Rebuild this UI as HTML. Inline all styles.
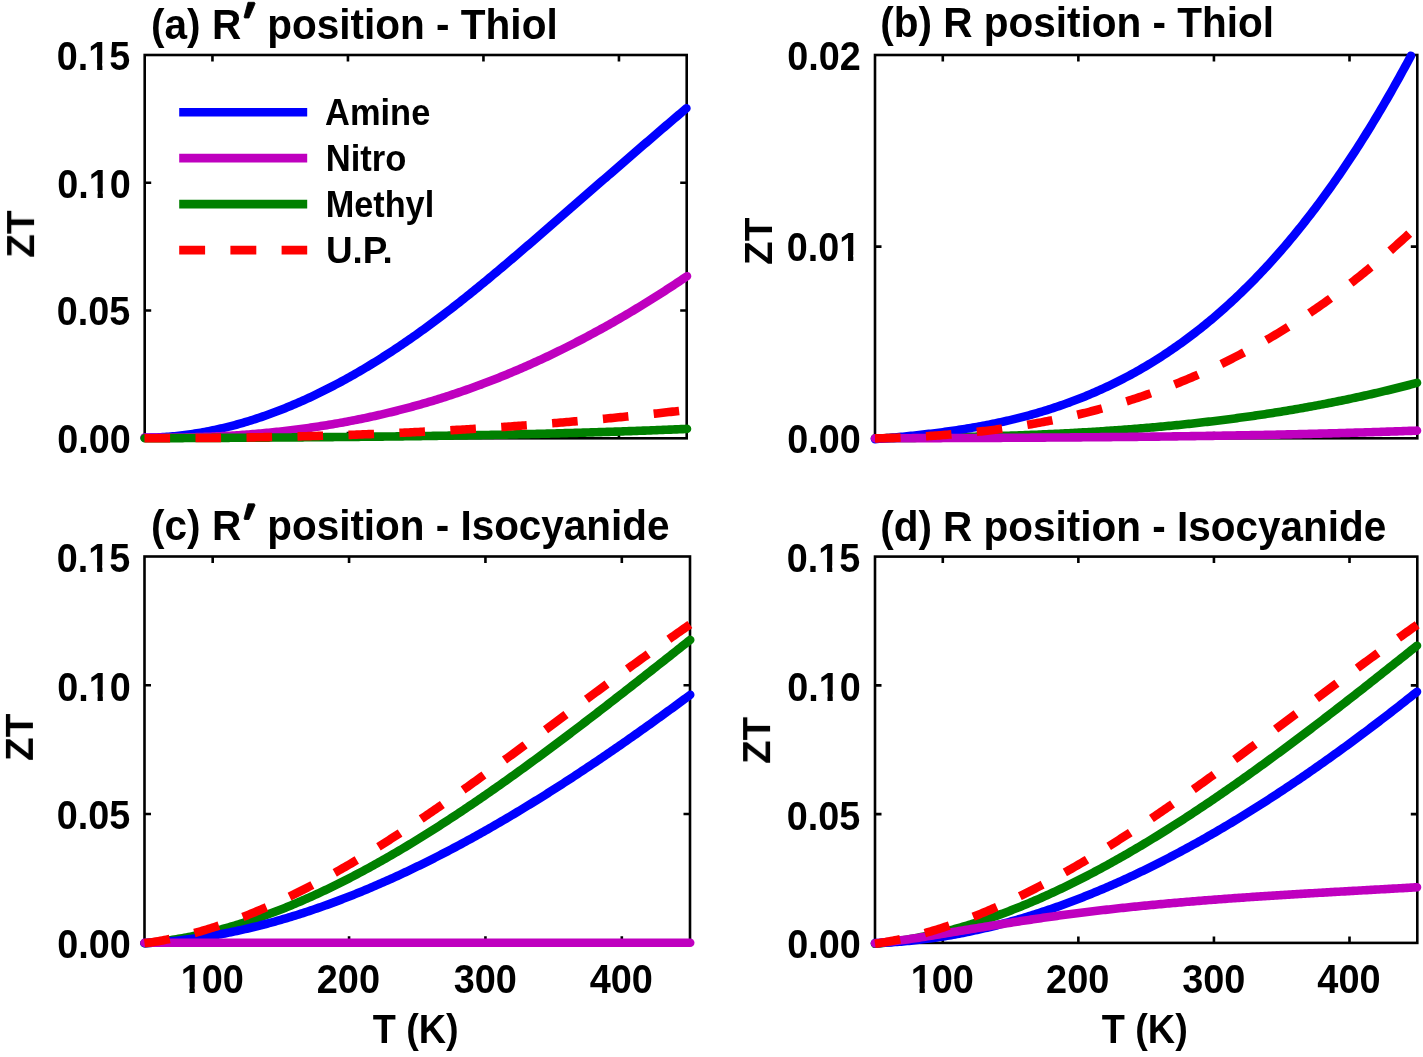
<!DOCTYPE html>
<html><head><meta charset="utf-8"><title>ZT vs T</title>
<style>html,body{margin:0;padding:0;background:#fff;width:1423px;height:1057px;overflow:hidden}svg{display:block}</style>
</head><body>
<svg width="1423" height="1057" viewBox="0 0 1423 1057">
<rect width="1423" height="1057" fill="#fff"/>
<rect x="144.7" y="55.0" width="542.00" height="383.30" fill="none" stroke="#000" stroke-width="2.6" stroke-linejoin="miter"/>
<path d="M212.45,438.30V431.80M212.45,55.00V61.50M347.95,438.30V431.80M347.95,55.00V61.50M483.45,438.30V431.80M483.45,55.00V61.50M618.95,438.30V431.80M618.95,55.00V61.50M144.70,310.53H151.20M686.70,310.53H680.20M144.70,182.77H151.20M686.70,182.77H680.20" stroke="#000" stroke-width="2.6" fill="none"/>
<rect x="875.0" y="55.0" width="542.30" height="383.30" fill="none" stroke="#000" stroke-width="2.6" stroke-linejoin="miter"/>
<path d="M942.79,438.30V431.80M942.79,55.00V61.50M1078.36,438.30V431.80M1078.36,55.00V61.50M1213.94,438.30V431.80M1213.94,55.00V61.50M1349.51,438.30V431.80M1349.51,55.00V61.50M875.00,246.65H881.50M1417.30,246.65H1410.80" stroke="#000" stroke-width="2.6" fill="none"/>
<rect x="144.5" y="556.5" width="545.50" height="386.30" fill="none" stroke="#000" stroke-width="2.6" stroke-linejoin="miter"/>
<path d="M212.69,942.80V936.30M212.69,556.50V563.00M349.06,942.80V936.30M349.06,556.50V563.00M485.44,942.80V936.30M485.44,556.50V563.00M621.81,942.80V936.30M621.81,556.50V563.00M144.50,814.03H151.00M690.00,814.03H683.50M144.50,685.27H151.00M690.00,685.27H683.50" stroke="#000" stroke-width="2.6" fill="none"/>
<rect x="875.0" y="556.6" width="542.30" height="386.30" fill="none" stroke="#000" stroke-width="2.6" stroke-linejoin="miter"/>
<path d="M942.79,942.90V936.40M942.79,556.60V563.10M1078.36,942.90V936.40M1078.36,556.60V563.10M1213.94,942.90V936.40M1213.94,556.60V563.10M1349.51,942.90V936.40M1349.51,556.60V563.10M875.00,814.13H881.50M1417.30,814.13H1410.80M875.00,685.37H881.50M1417.30,685.37H1410.80" stroke="#000" stroke-width="2.6" fill="none"/>
<path d="M144.70,437.77 L146.71,437.75 L148.71,437.71 L150.72,437.67 L152.73,437.61 L154.73,437.54 L156.74,437.46 L158.74,437.36 L160.75,437.26 L162.76,437.14 L164.76,437.01 L166.77,436.87 L168.78,436.71 L170.78,436.54 L172.79,436.36 L174.79,436.17 L176.80,435.97 L178.81,435.76 L180.81,435.53 L182.82,435.29 L184.83,435.04 L186.83,434.78 L188.84,434.51 L190.84,434.22 L192.85,433.93 L194.86,433.62 L196.86,433.30 L198.87,432.97 L200.88,432.62 L202.88,432.27 L204.89,431.90 L206.90,431.52 L208.90,431.13 L210.91,430.73 L212.91,430.32 L214.92,429.90 L216.93,429.46 L218.93,429.02 L220.94,428.56 L222.95,428.09 L224.95,427.61 L226.96,427.12 L228.96,426.62 L230.97,426.11 L232.98,425.58 L234.98,425.05 L236.99,424.50 L239.00,423.94 L241.00,423.38 L243.01,422.80 L245.01,422.21 L247.02,421.61 L249.03,420.99 L251.03,420.37 L253.04,419.74 L255.05,419.09 L257.05,418.44 L259.06,417.77 L261.07,417.10 L263.07,416.41 L265.08,415.71 L267.08,415.00 L269.09,414.28 L271.10,413.55 L273.10,412.81 L275.11,412.06 L277.12,411.30 L279.12,410.53 L281.13,409.75 L283.13,408.96 L285.14,408.15 L287.15,407.34 L289.15,406.52 L291.16,405.68 L293.17,404.84 L295.17,403.99 L297.18,403.12 L299.18,402.25 L301.19,401.36 L303.20,400.47 L305.20,399.56 L307.21,398.65 L309.22,397.73 L311.22,396.79 L313.23,395.85 L315.24,394.89 L317.24,393.93 L319.25,392.95 L321.25,391.97 L323.26,390.97 L325.27,389.97 L327.27,388.96 L329.28,387.93 L331.29,386.90 L333.29,385.86 L335.30,384.81 L337.30,383.75 L339.31,382.67 L341.32,381.59 L343.32,380.50 L345.33,379.40 L347.34,378.29 L349.34,377.17 L351.35,376.05 L353.35,374.91 L355.36,373.76 L357.37,372.61 L359.37,371.44 L361.38,370.27 L363.39,369.08 L365.39,367.89 L367.40,366.69 L369.41,365.47 L371.41,364.25 L373.42,363.02 L375.42,361.78 L377.43,360.54 L379.44,359.28 L381.44,358.01 L383.45,356.74 L385.46,355.45 L387.46,354.16 L389.47,352.86 L391.47,351.55 L393.48,350.23 L395.49,348.90 L397.49,347.57 L399.50,346.22 L401.51,344.87 L403.51,343.50 L405.52,342.13 L407.52,340.75 L409.53,339.36 L411.54,337.97 L413.54,336.56 L415.55,335.15 L417.56,333.72 L419.56,332.29 L421.57,330.85 L423.58,329.41 L425.58,327.95 L427.59,326.48 L429.59,325.01 L431.60,323.53 L433.61,322.04 L435.61,320.55 L437.62,319.04 L439.63,317.53 L441.63,316.01 L443.64,314.49 L445.64,312.95 L447.65,311.41 L449.66,309.87 L451.66,308.31 L453.67,306.75 L455.68,305.18 L457.68,303.61 L459.69,302.03 L461.69,300.44 L463.70,298.85 L465.71,297.25 L467.71,295.65 L469.72,294.04 L471.73,292.42 L473.73,290.80 L475.74,289.17 L477.75,287.54 L479.75,285.90 L481.76,284.26 L483.76,282.61 L485.77,280.96 L487.78,279.31 L489.78,277.64 L491.79,275.98 L493.80,274.31 L495.80,272.64 L497.81,270.96 L499.81,269.28 L501.82,267.59 L503.83,265.90 L505.83,264.21 L507.84,262.51 L509.85,260.81 L511.85,259.11 L513.86,257.40 L515.86,255.69 L517.87,253.98 L519.88,252.26 L521.88,250.54 L523.89,248.82 L525.90,247.10 L527.90,245.38 L529.91,243.65 L531.92,241.92 L533.92,240.19 L535.93,238.46 L537.93,236.72 L539.94,234.99 L541.95,233.25 L543.95,231.51 L545.96,229.77 L547.97,228.03 L549.97,226.28 L551.98,224.54 L553.98,222.80 L555.99,221.05 L558.00,219.31 L560.00,217.56 L562.01,215.82 L564.02,214.07 L566.02,212.32 L568.03,210.58 L570.03,208.83 L572.04,207.08 L574.05,205.33 L576.05,203.59 L578.06,201.84 L580.07,200.09 L582.07,198.34 L584.08,196.59 L586.09,194.85 L588.09,193.10 L590.10,191.35 L592.10,189.60 L594.11,187.86 L596.12,186.11 L598.12,184.36 L600.13,182.61 L602.14,180.87 L604.14,179.12 L606.15,177.38 L608.15,175.63 L610.16,173.89 L612.17,172.14 L614.17,170.40 L616.18,168.66 L618.19,166.92 L620.19,165.17 L622.20,163.43 L624.20,161.69 L626.21,159.95 L628.22,158.22 L630.22,156.48 L632.23,154.74 L634.24,153.01 L636.24,151.27 L638.25,149.54 L640.26,147.81 L642.26,146.07 L644.27,144.34 L646.27,142.62 L648.28,140.89 L650.29,139.16 L652.29,137.44 L654.30,135.71 L656.31,133.99 L658.31,132.27 L660.32,130.55 L662.32,128.83 L664.33,127.11 L666.34,125.40 L668.34,123.68 L670.35,121.97 L672.36,120.26 L674.36,118.55 L676.37,116.85 L678.37,115.14 L680.38,113.44 L682.39,111.74 L684.39,110.04 L686.40,108.34" fill="none" stroke="#0000ff" stroke-width="8.6" stroke-linecap="round" stroke-linejoin="round"/>
<path d="M144.70,437.45 L146.70,437.48 L148.70,437.51 L150.70,437.53 L152.70,437.55 L154.71,437.57 L156.71,437.58 L158.71,437.59 L160.71,437.60 L162.71,437.60 L164.71,437.60 L166.71,437.60 L168.71,437.59 L170.71,437.59 L172.72,437.57 L174.72,437.56 L176.72,437.54 L178.72,437.52 L180.72,437.49 L182.72,437.46 L184.72,437.43 L186.72,437.39 L188.72,437.35 L190.73,437.31 L192.73,437.26 L194.73,437.21 L196.73,437.16 L198.73,437.10 L200.73,437.04 L202.73,436.97 L204.73,436.91 L206.73,436.83 L208.74,436.76 L210.74,436.68 L212.74,436.60 L214.74,436.51 L216.74,436.42 L218.74,436.33 L220.74,436.23 L222.74,436.13 L224.74,436.02 L226.75,435.91 L228.75,435.80 L230.75,435.68 L232.75,435.56 L234.75,435.44 L236.75,435.31 L238.75,435.17 L240.75,435.04 L242.75,434.90 L244.76,434.75 L246.76,434.60 L248.76,434.45 L250.76,434.29 L252.76,434.13 L254.76,433.97 L256.76,433.80 L258.76,433.63 L260.76,433.45 L262.77,433.27 L264.77,433.08 L266.77,432.89 L268.77,432.70 L270.77,432.50 L272.77,432.30 L274.77,432.09 L276.77,431.88 L278.77,431.67 L280.78,431.45 L282.78,431.22 L284.78,430.99 L286.78,430.76 L288.78,430.53 L290.78,430.28 L292.78,430.04 L294.78,429.79 L296.78,429.53 L298.79,429.27 L300.79,429.01 L302.79,428.74 L304.79,428.47 L306.79,428.19 L308.79,427.91 L310.79,427.62 L312.79,427.33 L314.79,427.04 L316.80,426.74 L318.80,426.43 L320.80,426.12 L322.80,425.81 L324.80,425.49 L326.80,425.17 L328.80,424.84 L330.80,424.50 L332.80,424.17 L334.81,423.82 L336.81,423.47 L338.81,423.12 L340.81,422.76 L342.81,422.40 L344.81,422.04 L346.81,421.66 L348.81,421.29 L350.81,420.90 L352.82,420.52 L354.82,420.13 L356.82,419.73 L358.82,419.33 L360.82,418.92 L362.82,418.51 L364.82,418.09 L366.82,417.67 L368.82,417.24 L370.83,416.81 L372.83,416.37 L374.83,415.93 L376.83,415.48 L378.83,415.03 L380.83,414.57 L382.83,414.10 L384.83,413.64 L386.83,413.16 L388.84,412.68 L390.84,412.20 L392.84,411.71 L394.84,411.21 L396.84,410.71 L398.84,410.20 L400.84,409.69 L402.84,409.18 L404.84,408.65 L406.85,408.13 L408.85,407.59 L410.85,407.05 L412.85,406.51 L414.85,405.96 L416.85,405.40 L418.85,404.84 L420.85,404.28 L422.85,403.70 L424.85,403.12 L426.86,402.54 L428.86,401.95 L430.86,401.36 L432.86,400.76 L434.86,400.15 L436.86,399.54 L438.86,398.92 L440.86,398.30 L442.86,397.67 L444.87,397.03 L446.87,396.39 L448.87,395.75 L450.87,395.09 L452.87,394.43 L454.87,393.77 L456.87,393.10 L458.87,392.42 L460.87,391.74 L462.88,391.05 L464.88,390.36 L466.88,389.66 L468.88,388.95 L470.88,388.24 L472.88,387.52 L474.88,386.80 L476.88,386.07 L478.88,385.33 L480.89,384.59 L482.89,383.84 L484.89,383.09 L486.89,382.33 L488.89,381.56 L490.89,380.79 L492.89,380.01 L494.89,379.23 L496.89,378.44 L498.90,377.64 L500.90,376.84 L502.90,376.03 L504.90,375.22 L506.90,374.40 L508.90,373.57 L510.90,372.74 L512.90,371.90 L514.90,371.06 L516.91,370.21 L518.91,369.35 L520.91,368.49 L522.91,367.62 L524.91,366.75 L526.91,365.87 L528.91,364.98 L530.91,364.09 L532.91,363.19 L534.92,362.29 L536.92,361.38 L538.92,360.46 L540.92,359.54 L542.92,358.61 L544.92,357.68 L546.92,356.74 L548.92,355.79 L550.92,354.84 L552.93,353.88 L554.93,352.92 L556.93,351.95 L558.93,350.98 L560.93,349.99 L562.93,349.01 L564.93,348.01 L566.93,347.02 L568.93,346.01 L570.94,345.00 L572.94,343.98 L574.94,342.96 L576.94,341.93 L578.94,340.89 L580.94,339.85 L582.94,338.81 L584.94,337.75 L586.94,336.70 L588.95,335.63 L590.95,334.56 L592.95,333.48 L594.95,332.40 L596.95,331.31 L598.95,330.22 L600.95,329.12 L602.95,328.01 L604.95,326.90 L606.96,325.78 L608.96,324.66 L610.96,323.53 L612.96,322.39 L614.96,321.25 L616.96,320.10 L618.96,318.95 L620.96,317.79 L622.96,316.62 L624.97,315.45 L626.97,314.27 L628.97,313.09 L630.97,311.90 L632.97,310.70 L634.97,309.50 L636.97,308.29 L638.97,307.08 L640.97,305.86 L642.98,304.64 L644.98,303.40 L646.98,302.17 L648.98,300.93 L650.98,299.68 L652.98,298.42 L654.98,297.16 L656.98,295.89 L658.98,294.62 L660.99,293.34 L662.99,292.06 L664.99,290.77 L666.99,289.47 L668.99,288.17 L670.99,286.86 L672.99,285.55 L674.99,284.23 L676.99,282.90 L679.00,281.57 L681.00,280.23 L683.00,278.89 L685.00,277.54 L687.00,276.19" fill="none" stroke="#bf00bf" stroke-width="8.6" stroke-linecap="round" stroke-linejoin="round"/>
<path d="M144.70,438.28 L146.70,438.26 L148.70,438.25 L150.70,438.24 L152.70,438.23 L154.71,438.22 L156.71,438.21 L158.71,438.20 L160.71,438.19 L162.71,438.18 L164.71,438.17 L166.71,438.16 L168.71,438.15 L170.71,438.14 L172.72,438.13 L174.72,438.12 L176.72,438.11 L178.72,438.10 L180.72,438.09 L182.72,438.08 L184.72,438.07 L186.72,438.05 L188.72,438.04 L190.73,438.03 L192.73,438.02 L194.73,438.01 L196.73,438.00 L198.73,437.99 L200.73,437.98 L202.73,437.97 L204.73,437.96 L206.73,437.95 L208.74,437.94 L210.74,437.93 L212.74,437.92 L214.74,437.90 L216.74,437.89 L218.74,437.88 L220.74,437.87 L222.74,437.86 L224.74,437.85 L226.75,437.84 L228.75,437.83 L230.75,437.81 L232.75,437.80 L234.75,437.79 L236.75,437.78 L238.75,437.77 L240.75,437.76 L242.75,437.74 L244.76,437.73 L246.76,437.72 L248.76,437.71 L250.76,437.70 L252.76,437.68 L254.76,437.67 L256.76,437.66 L258.76,437.65 L260.76,437.63 L262.77,437.62 L264.77,437.61 L266.77,437.59 L268.77,437.58 L270.77,437.57 L272.77,437.55 L274.77,437.54 L276.77,437.53 L278.77,437.51 L280.78,437.50 L282.78,437.49 L284.78,437.47 L286.78,437.46 L288.78,437.44 L290.78,437.43 L292.78,437.41 L294.78,437.40 L296.78,437.38 L298.79,437.37 L300.79,437.35 L302.79,437.34 L304.79,437.32 L306.79,437.31 L308.79,437.29 L310.79,437.28 L312.79,437.26 L314.79,437.24 L316.80,437.23 L318.80,437.21 L320.80,437.19 L322.80,437.18 L324.80,437.16 L326.80,437.14 L328.80,437.12 L330.80,437.11 L332.80,437.09 L334.81,437.07 L336.81,437.05 L338.81,437.03 L340.81,437.02 L342.81,437.00 L344.81,436.98 L346.81,436.96 L348.81,436.94 L350.81,436.92 L352.82,436.90 L354.82,436.88 L356.82,436.86 L358.82,436.84 L360.82,436.82 L362.82,436.80 L364.82,436.78 L366.82,436.75 L368.82,436.73 L370.83,436.71 L372.83,436.69 L374.83,436.67 L376.83,436.64 L378.83,436.62 L380.83,436.60 L382.83,436.58 L384.83,436.55 L386.83,436.53 L388.84,436.50 L390.84,436.48 L392.84,436.46 L394.84,436.43 L396.84,436.41 L398.84,436.38 L400.84,436.36 L402.84,436.33 L404.84,436.30 L406.85,436.28 L408.85,436.25 L410.85,436.22 L412.85,436.20 L414.85,436.17 L416.85,436.14 L418.85,436.12 L420.85,436.09 L422.85,436.06 L424.85,436.03 L426.86,436.00 L428.86,435.97 L430.86,435.94 L432.86,435.91 L434.86,435.88 L436.86,435.85 L438.86,435.82 L440.86,435.79 L442.86,435.76 L444.87,435.73 L446.87,435.69 L448.87,435.66 L450.87,435.63 L452.87,435.60 L454.87,435.56 L456.87,435.53 L458.87,435.49 L460.87,435.46 L462.88,435.43 L464.88,435.39 L466.88,435.36 L468.88,435.32 L470.88,435.28 L472.88,435.25 L474.88,435.21 L476.88,435.17 L478.88,435.14 L480.89,435.10 L482.89,435.06 L484.89,435.02 L486.89,434.98 L488.89,434.94 L490.89,434.91 L492.89,434.87 L494.89,434.82 L496.89,434.78 L498.90,434.74 L500.90,434.70 L502.90,434.66 L504.90,434.62 L506.90,434.58 L508.90,434.53 L510.90,434.49 L512.90,434.45 L514.90,434.40 L516.91,434.36 L518.91,434.31 L520.91,434.27 L522.91,434.22 L524.91,434.18 L526.91,434.13 L528.91,434.08 L530.91,434.04 L532.91,433.99 L534.92,433.94 L536.92,433.89 L538.92,433.84 L540.92,433.79 L542.92,433.74 L544.92,433.69 L546.92,433.64 L548.92,433.59 L550.92,433.54 L552.93,433.49 L554.93,433.44 L556.93,433.38 L558.93,433.33 L560.93,433.28 L562.93,433.22 L564.93,433.17 L566.93,433.11 L568.93,433.06 L570.94,433.00 L572.94,432.94 L574.94,432.89 L576.94,432.83 L578.94,432.77 L580.94,432.71 L582.94,432.66 L584.94,432.60 L586.94,432.54 L588.95,432.48 L590.95,432.42 L592.95,432.36 L594.95,432.29 L596.95,432.23 L598.95,432.17 L600.95,432.11 L602.95,432.04 L604.95,431.98 L606.96,431.91 L608.96,431.85 L610.96,431.78 L612.96,431.72 L614.96,431.65 L616.96,431.58 L618.96,431.52 L620.96,431.45 L622.96,431.38 L624.97,431.31 L626.97,431.24 L628.97,431.17 L630.97,431.10 L632.97,431.03 L634.97,430.96 L636.97,430.89 L638.97,430.81 L640.97,430.74 L642.98,430.67 L644.98,430.59 L646.98,430.52 L648.98,430.44 L650.98,430.37 L652.98,430.29 L654.98,430.21 L656.98,430.14 L658.98,430.06 L660.99,429.98 L662.99,429.90 L664.99,429.82 L666.99,429.74 L668.99,429.66 L670.99,429.58 L672.99,429.49 L674.99,429.41 L676.99,429.33 L679.00,429.25 L681.00,429.16 L683.00,429.08 L685.00,428.99 L687.00,428.90" fill="none" stroke="#008000" stroke-width="8.6" stroke-linecap="round" stroke-linejoin="round"/>
<path d="M144.50,438.23 L146.50,438.23 L148.50,438.23 L150.50,438.23 L152.50,438.23 L154.50,438.23 L156.50,438.23 L158.51,438.22 L160.51,438.22 L162.51,438.22 L164.51,438.21 L166.51,438.21 L168.51,438.20 L170.51,438.20 L172.51,438.19 L174.51,438.18 L176.51,438.17 L178.51,438.16 L180.51,438.16 L182.51,438.15 L184.51,438.13 L186.52,438.12 L188.52,438.11 L190.52,438.10 L192.52,438.09 L194.52,438.07 L196.52,438.06 L198.52,438.04 L200.52,438.03 L202.52,438.01 L204.52,437.99 L206.52,437.98 L208.52,437.96 L210.52,437.94 L212.53,437.92 L214.53,437.90 L216.53,437.88 L218.53,437.86 L220.53,437.83 L222.53,437.81 L224.53,437.79 L226.53,437.76 L228.53,437.74 L230.53,437.71 L232.53,437.68 L234.53,437.66 L236.53,437.63 L238.53,437.60 L240.54,437.57 L242.54,437.54 L244.54,437.51 L246.54,437.48 L248.54,437.45 L250.54,437.41 L252.54,437.38 L254.54,437.35 L256.54,437.31 L258.54,437.28 L260.54,437.24 L262.54,437.20 L264.54,437.17 L266.55,437.13 L268.55,437.09 L270.55,437.05 L272.55,437.01 L274.55,436.97 L276.55,436.92 L278.55,436.88 L280.55,436.84 L282.55,436.79 L284.55,436.75 L286.55,436.70 L288.55,436.66 L290.55,436.61 L292.55,436.56 L294.56,436.51 L296.56,436.46 L298.56,436.41 L300.56,436.36 L302.56,436.31 L304.56,436.26 L306.56,436.21 L308.56,436.15 L310.56,436.10 L312.56,436.04 L314.56,435.98 L316.56,435.93 L318.56,435.87 L320.56,435.81 L322.57,435.75 L324.57,435.69 L326.57,435.63 L328.57,435.57 L330.57,435.51 L332.57,435.44 L334.57,435.38 L336.57,435.32 L338.57,435.25 L340.57,435.18 L342.57,435.12 L344.57,435.05 L346.57,434.98 L348.58,434.91 L350.58,434.84 L352.58,434.77 L354.58,434.70 L356.58,434.62 L358.58,434.55 L360.58,434.48 L362.58,434.40 L364.58,434.32 L366.58,434.25 L368.58,434.17 L370.58,434.09 L372.58,434.01 L374.58,433.93 L376.59,433.85 L378.59,433.77 L380.59,433.69 L382.59,433.60 L384.59,433.52 L386.59,433.43 L388.59,433.35 L390.59,433.26 L392.59,433.17 L394.59,433.08 L396.59,433.00 L398.59,432.91 L400.59,432.81 L402.60,432.72 L404.60,432.63 L406.60,432.54 L408.60,432.44 L410.60,432.35 L412.60,432.25 L414.60,432.15 L416.60,432.05 L418.60,431.96 L420.60,431.86 L422.60,431.76 L424.60,431.65 L426.60,431.55 L428.60,431.45 L430.61,431.34 L432.61,431.24 L434.61,431.13 L436.61,431.03 L438.61,430.92 L440.61,430.81 L442.61,430.70 L444.61,430.59 L446.61,430.48 L448.61,430.37 L450.61,430.25 L452.61,430.14 L454.61,430.03 L456.62,429.91 L458.62,429.79 L460.62,429.68 L462.62,429.56 L464.62,429.44 L466.62,429.32 L468.62,429.20 L470.62,429.07 L472.62,428.95 L474.62,428.83 L476.62,428.70 L478.62,428.58 L480.62,428.45 L482.62,428.32 L484.63,428.19 L486.63,428.06 L488.63,427.93 L490.63,427.80 L492.63,427.67 L494.63,427.54 L496.63,427.40 L498.63,427.27 L500.63,427.13 L502.63,426.99 L504.63,426.85 L506.63,426.72 L508.63,426.58 L510.64,426.43 L512.64,426.29 L514.64,426.15 L516.64,426.01 L518.64,425.86 L520.64,425.72 L522.64,425.57 L524.64,425.42 L526.64,425.27 L528.64,425.12 L530.64,424.97 L532.64,424.82 L534.64,424.67 L536.64,424.51 L538.65,424.36 L540.65,424.20 L542.65,424.05 L544.65,423.89 L546.65,423.73 L548.65,423.57 L550.65,423.41 L552.65,423.25 L554.65,423.08 L556.65,422.92 L558.65,422.76 L560.65,422.59 L562.65,422.42 L564.65,422.26 L566.66,422.09 L568.66,421.92 L570.66,421.75 L572.66,421.57 L574.66,421.40 L576.66,421.23 L578.66,421.05 L580.66,420.88 L582.66,420.70 L584.66,420.52 L586.66,420.34 L588.66,420.16 L590.66,419.98 L592.67,419.80 L594.67,419.62 L596.67,419.43 L598.67,419.25 L600.67,419.06 L602.67,418.87 L604.67,418.68 L606.67,418.49 L608.67,418.30 L610.67,418.11 L612.67,417.92 L614.67,417.73 L616.67,417.53 L618.67,417.33 L620.68,417.14 L622.68,416.94 L624.68,416.74 L626.68,416.54 L628.68,416.34 L630.68,416.14 L632.68,415.93 L634.68,415.73 L636.68,415.52 L638.68,415.32 L640.68,415.11 L642.68,414.90 L644.68,414.69 L646.69,414.48 L648.69,414.26 L650.69,414.05 L652.69,413.84 L654.69,413.62 L656.69,413.40 L658.69,413.19 L660.69,412.97 L662.69,412.75 L664.69,412.53 L666.69,412.30 L668.69,412.08 L670.69,411.86 L672.69,411.63 L674.70,411.40 L676.70,411.18 L678.70,410.95 L680.70,410.72 L682.70,410.49 L684.70,410.25 L686.70,410.02" fill="none" stroke="#ff0000" stroke-width="8.6" stroke-dasharray="25.6 25.4" stroke-linecap="butt" stroke-linejoin="round"/>
<path d="M875.00,438.29 L877.00,438.27 L879.00,438.25 L881.00,438.23 L883.00,438.21 L885.00,438.19 L887.00,438.17 L889.00,438.15 L891.00,438.13 L893.00,438.11 L895.00,438.09 L897.00,438.06 L899.00,438.04 L901.00,438.02 L903.00,437.99 L905.00,437.97 L907.00,437.94 L909.00,437.92 L911.00,437.89 L913.00,437.86 L915.00,437.84 L917.00,437.81 L919.00,437.78 L921.00,437.75 L923.00,437.72 L925.00,437.69 L927.00,437.66 L929.00,437.63 L931.00,437.60 L933.00,437.56 L935.00,437.53 L937.00,437.50 L939.00,437.46 L941.00,437.43 L943.00,437.39 L945.00,437.35 L947.00,437.32 L949.00,437.28 L951.00,437.24 L953.00,437.20 L955.00,437.16 L957.00,437.12 L959.00,437.07 L961.00,437.03 L963.00,436.99 L965.00,436.94 L967.00,436.90 L969.00,436.85 L971.00,436.80 L973.00,436.76 L975.00,436.71 L977.00,436.66 L979.00,436.61 L981.00,436.55 L983.00,436.50 L985.00,436.45 L987.00,436.39 L989.00,436.34 L991.00,436.28 L993.00,436.22 L995.00,436.16 L997.00,436.10 L999.00,436.04 L1001.00,435.98 L1003.00,435.92 L1005.00,435.86 L1007.00,435.79 L1009.00,435.72 L1011.00,435.66 L1013.00,435.59 L1015.00,435.52 L1017.00,435.45 L1019.00,435.38 L1021.00,435.30 L1023.00,435.23 L1025.00,435.16 L1027.00,435.08 L1029.00,435.00 L1031.00,434.92 L1033.00,434.84 L1035.00,434.76 L1037.00,434.68 L1039.00,434.60 L1041.00,434.51 L1043.00,434.42 L1045.00,434.34 L1047.00,434.25 L1049.00,434.16 L1051.00,434.07 L1053.00,433.97 L1055.00,433.88 L1057.00,433.78 L1059.00,433.69 L1061.00,433.59 L1063.00,433.49 L1065.00,433.39 L1067.00,433.28 L1069.00,433.18 L1071.00,433.07 L1073.00,432.97 L1075.00,432.86 L1077.00,432.75 L1079.00,432.64 L1081.00,432.53 L1083.00,432.41 L1085.00,432.29 L1087.00,432.18 L1089.00,432.06 L1091.00,431.94 L1093.00,431.82 L1095.00,431.69 L1097.00,431.57 L1099.00,431.44 L1101.00,431.31 L1103.00,431.18 L1105.00,431.05 L1107.00,430.91 L1109.00,430.78 L1111.00,430.64 L1113.00,430.50 L1115.00,430.36 L1117.00,430.22 L1119.00,430.08 L1121.00,429.93 L1123.00,429.79 L1125.00,429.64 L1127.00,429.49 L1129.00,429.33 L1131.00,429.18 L1133.00,429.02 L1135.00,428.86 L1137.00,428.70 L1139.00,428.54 L1141.00,428.38 L1143.00,428.21 L1145.00,428.05 L1147.00,427.88 L1149.00,427.71 L1151.00,427.53 L1153.00,427.36 L1155.00,427.18 L1157.00,427.00 L1159.00,426.82 L1161.00,426.64 L1163.00,426.46 L1165.00,426.27 L1167.00,426.08 L1169.00,425.89 L1171.00,425.70 L1173.00,425.50 L1175.00,425.30 L1177.00,425.11 L1179.00,424.91 L1181.00,424.70 L1183.00,424.50 L1185.00,424.29 L1187.00,424.08 L1189.00,423.87 L1191.00,423.66 L1193.00,423.44 L1195.00,423.22 L1197.00,423.00 L1199.00,422.78 L1201.00,422.55 L1203.00,422.33 L1205.00,422.10 L1207.00,421.87 L1209.00,421.63 L1211.00,421.40 L1213.00,421.16 L1215.00,420.92 L1217.00,420.68 L1219.00,420.43 L1221.00,420.19 L1223.00,419.94 L1225.00,419.68 L1227.00,419.43 L1229.00,419.17 L1231.00,418.92 L1233.00,418.65 L1235.00,418.39 L1237.00,418.12 L1239.00,417.86 L1241.00,417.58 L1243.00,417.31 L1245.00,417.04 L1247.00,416.76 L1249.00,416.48 L1251.00,416.19 L1253.00,415.91 L1255.00,415.62 L1257.00,415.33 L1259.00,415.03 L1261.00,414.74 L1263.00,414.44 L1265.00,414.14 L1267.00,413.84 L1269.00,413.53 L1271.00,413.22 L1273.00,412.91 L1275.00,412.60 L1277.00,412.28 L1279.00,411.96 L1281.00,411.64 L1283.00,411.31 L1285.00,410.99 L1287.00,410.66 L1289.00,410.32 L1291.00,409.99 L1293.00,409.65 L1295.00,409.31 L1297.00,408.96 L1299.00,408.62 L1301.00,408.27 L1303.00,407.92 L1305.00,407.56 L1307.00,407.20 L1309.00,406.84 L1311.00,406.48 L1313.00,406.11 L1315.00,405.74 L1317.00,405.37 L1319.00,405.00 L1321.00,404.62 L1323.00,404.24 L1325.00,403.85 L1327.00,403.47 L1329.00,403.08 L1331.00,402.69 L1333.00,402.29 L1335.00,401.89 L1337.00,401.49 L1339.00,401.09 L1341.00,400.68 L1343.00,400.27 L1345.00,399.86 L1347.00,399.44 L1349.00,399.02 L1351.00,398.60 L1353.00,398.17 L1355.00,397.74 L1357.00,397.31 L1359.00,396.88 L1361.00,396.44 L1363.00,396.00 L1365.00,395.55 L1367.00,395.11 L1369.00,394.65 L1371.00,394.20 L1373.00,393.74 L1375.00,393.28 L1377.00,392.82 L1379.00,392.35 L1381.00,391.88 L1383.00,391.41 L1385.00,390.93 L1387.00,390.45 L1389.00,389.97 L1391.00,389.48 L1393.00,388.99 L1395.00,388.50 L1397.00,388.00 L1399.00,387.50 L1401.00,387.00 L1403.00,386.50 L1405.00,385.99 L1407.00,385.47 L1409.00,384.96 L1411.00,384.44 L1413.00,383.91 L1415.00,383.39 L1417.00,382.85" fill="none" stroke="#008000" stroke-width="8.6" stroke-linecap="round" stroke-linejoin="round"/>
<path d="M875.00,439.11 L877.00,438.95 L879.00,438.78 L881.00,438.62 L883.00,438.45 L885.00,438.28 L887.00,438.11 L889.00,437.94 L891.00,437.76 L893.00,437.59 L895.00,437.41 L897.00,437.22 L899.00,437.04 L901.00,436.85 L903.00,436.66 L905.00,436.47 L907.00,436.27 L909.00,436.07 L911.00,435.87 L913.00,435.66 L915.00,435.45 L917.00,435.24 L919.00,435.03 L921.00,434.81 L923.00,434.59 L925.00,434.36 L927.00,434.13 L929.00,433.89 L931.00,433.66 L933.00,433.41 L935.00,433.17 L937.00,432.92 L939.00,432.66 L941.00,432.40 L943.00,432.14 L945.00,431.87 L947.00,431.60 L949.00,431.32 L951.00,431.04 L953.00,430.75 L955.00,430.46 L957.00,430.16 L959.00,429.86 L961.00,429.55 L963.00,429.23 L965.00,428.91 L967.00,428.59 L969.00,428.26 L971.00,427.92 L973.00,427.58 L975.00,427.23 L977.00,426.88 L979.00,426.52 L981.00,426.15 L983.00,425.78 L985.00,425.40 L987.00,425.02 L989.00,424.62 L991.00,424.23 L993.00,423.82 L995.00,423.41 L997.00,422.99 L999.00,422.56 L1001.00,422.13 L1003.00,421.69 L1005.00,421.24 L1007.00,420.79 L1009.00,420.33 L1011.00,419.86 L1013.00,419.38 L1015.00,418.89 L1017.00,418.40 L1019.00,417.90 L1021.00,417.39 L1023.00,416.88 L1025.00,416.35 L1027.00,415.82 L1029.00,415.28 L1031.00,414.73 L1033.00,414.17 L1035.00,413.60 L1037.00,413.03 L1039.00,412.44 L1041.00,411.85 L1043.00,411.25 L1045.00,410.64 L1047.00,410.02 L1049.00,409.39 L1051.00,408.75 L1053.00,408.10 L1055.00,407.45 L1057.00,406.78 L1059.00,406.10 L1061.00,405.42 L1063.00,404.72 L1065.00,404.02 L1067.00,403.30 L1069.00,402.58 L1071.00,401.84 L1073.00,401.09 L1075.00,400.34 L1077.00,399.57 L1079.00,398.79 L1081.00,398.01 L1083.00,397.21 L1085.00,396.40 L1087.00,395.58 L1089.00,394.75 L1091.00,393.90 L1093.00,393.05 L1095.00,392.19 L1097.00,391.31 L1099.00,390.42 L1101.00,389.52 L1103.00,388.61 L1105.00,387.69 L1107.00,386.76 L1109.00,385.81 L1111.00,384.86 L1113.00,383.89 L1115.00,382.90 L1117.00,381.91 L1119.00,380.90 L1121.00,379.89 L1123.00,378.86 L1125.00,377.81 L1127.00,376.76 L1129.00,375.69 L1131.00,374.61 L1133.00,373.51 L1135.00,372.41 L1137.00,371.28 L1139.00,370.15 L1141.00,369.00 L1143.00,367.84 L1145.00,366.67 L1147.00,365.48 L1149.00,364.28 L1151.00,363.07 L1153.00,361.84 L1155.00,360.60 L1157.00,359.34 L1159.00,358.07 L1161.00,356.79 L1163.00,355.49 L1165.00,354.18 L1167.00,352.85 L1169.00,351.51 L1171.00,350.16 L1173.00,348.79 L1175.00,347.40 L1177.00,346.00 L1179.00,344.58 L1181.00,343.15 L1183.00,341.71 L1185.00,340.25 L1187.00,338.77 L1189.00,337.28 L1191.00,335.78 L1193.00,334.26 L1195.00,332.72 L1197.00,331.16 L1199.00,329.60 L1201.00,328.01 L1203.00,326.41 L1205.00,324.79 L1207.00,323.16 L1209.00,321.51 L1211.00,319.85 L1213.00,318.16 L1215.00,316.46 L1217.00,314.75 L1219.00,313.02 L1221.00,311.27 L1223.00,309.50 L1225.00,307.72 L1227.00,305.92 L1229.00,304.11 L1231.00,302.27 L1233.00,300.42 L1235.00,298.55 L1237.00,296.67 L1239.00,294.76 L1241.00,292.84 L1243.00,290.90 L1245.00,288.95 L1247.00,286.97 L1249.00,284.98 L1251.00,282.97 L1253.00,280.94 L1255.00,278.89 L1257.00,276.83 L1259.00,274.74 L1261.00,272.64 L1263.00,270.52 L1265.00,268.38 L1267.00,266.22 L1269.00,264.05 L1271.00,261.85 L1273.00,259.63 L1275.00,257.40 L1277.00,255.15 L1279.00,252.87 L1281.00,250.58 L1283.00,248.27 L1285.00,245.94 L1287.00,243.59 L1289.00,241.21 L1291.00,238.82 L1293.00,236.41 L1295.00,233.98 L1297.00,231.53 L1299.00,229.06 L1301.00,226.57 L1303.00,224.06 L1305.00,221.53 L1307.00,218.97 L1309.00,216.40 L1311.00,213.80 L1313.00,211.19 L1315.00,208.55 L1317.00,205.90 L1319.00,203.22 L1321.00,200.52 L1323.00,197.80 L1325.00,195.06 L1327.00,192.29 L1329.00,189.51 L1331.00,186.70 L1333.00,183.88 L1335.00,181.03 L1337.00,178.15 L1339.00,175.26 L1341.00,172.34 L1343.00,169.41 L1345.00,166.45 L1347.00,163.46 L1349.00,160.46 L1351.00,157.43 L1353.00,154.38 L1355.00,151.31 L1357.00,148.21 L1359.00,145.10 L1361.00,141.95 L1363.00,138.79 L1365.00,135.60 L1367.00,132.39 L1369.00,129.16 L1371.00,125.90 L1373.00,122.62 L1375.00,119.32 L1377.00,115.99 L1379.00,112.64 L1381.00,109.26 L1383.00,105.86 L1385.00,102.44 L1387.00,98.99 L1389.00,95.52 L1391.00,92.02 L1393.00,88.50 L1395.00,84.96 L1397.00,81.39 L1399.00,77.80 L1401.00,74.18 L1403.00,70.54 L1405.00,66.87 L1407.00,63.17 L1409.00,59.46 L1411.00,55.71" fill="none" stroke="#0000ff" stroke-width="8.6" stroke-linecap="round" stroke-linejoin="round"/>
<path d="M875.00,438.30 L877.00,438.29 L879.00,438.29 L881.00,438.28 L883.00,438.27 L885.00,438.27 L887.00,438.26 L889.00,438.25 L891.00,438.25 L893.00,438.24 L895.00,438.23 L897.00,438.23 L899.00,438.22 L901.00,438.21 L903.00,438.21 L905.00,438.20 L907.00,438.19 L909.00,438.19 L911.00,438.18 L913.00,438.17 L915.00,438.17 L917.00,438.16 L919.00,438.15 L921.00,438.15 L923.00,438.14 L925.00,438.13 L927.00,438.13 L929.00,438.12 L931.00,438.11 L933.00,438.10 L935.00,438.10 L937.00,438.09 L939.00,438.08 L941.00,438.08 L943.00,438.07 L945.00,438.06 L947.00,438.05 L949.00,438.05 L951.00,438.04 L953.00,438.03 L955.00,438.02 L957.00,438.02 L959.00,438.01 L961.00,438.00 L963.00,437.99 L965.00,437.98 L967.00,437.98 L969.00,437.97 L971.00,437.96 L973.00,437.95 L975.00,437.94 L977.00,437.94 L979.00,437.93 L981.00,437.92 L983.00,437.91 L985.00,437.90 L987.00,437.89 L989.00,437.88 L991.00,437.87 L993.00,437.86 L995.00,437.86 L997.00,437.85 L999.00,437.84 L1001.00,437.83 L1003.00,437.82 L1005.00,437.81 L1007.00,437.80 L1009.00,437.79 L1011.00,437.78 L1013.00,437.77 L1015.00,437.76 L1017.00,437.75 L1019.00,437.74 L1021.00,437.73 L1023.00,437.71 L1025.00,437.70 L1027.00,437.69 L1029.00,437.68 L1031.00,437.67 L1033.00,437.66 L1035.00,437.65 L1037.00,437.63 L1039.00,437.62 L1041.00,437.61 L1043.00,437.60 L1045.00,437.59 L1047.00,437.57 L1049.00,437.56 L1051.00,437.55 L1053.00,437.54 L1055.00,437.52 L1057.00,437.51 L1059.00,437.50 L1061.00,437.48 L1063.00,437.47 L1065.00,437.45 L1067.00,437.44 L1069.00,437.43 L1071.00,437.41 L1073.00,437.40 L1075.00,437.38 L1077.00,437.37 L1079.00,437.35 L1081.00,437.34 L1083.00,437.32 L1085.00,437.31 L1087.00,437.29 L1089.00,437.27 L1091.00,437.26 L1093.00,437.24 L1095.00,437.22 L1097.00,437.21 L1099.00,437.19 L1101.00,437.17 L1103.00,437.16 L1105.00,437.14 L1107.00,437.12 L1109.00,437.10 L1111.00,437.08 L1113.00,437.06 L1115.00,437.05 L1117.00,437.03 L1119.00,437.01 L1121.00,436.99 L1123.00,436.97 L1125.00,436.95 L1127.00,436.93 L1129.00,436.91 L1131.00,436.89 L1133.00,436.87 L1135.00,436.85 L1137.00,436.83 L1139.00,436.80 L1141.00,436.78 L1143.00,436.76 L1145.00,436.74 L1147.00,436.72 L1149.00,436.69 L1151.00,436.67 L1153.00,436.65 L1155.00,436.62 L1157.00,436.60 L1159.00,436.58 L1161.00,436.55 L1163.00,436.53 L1165.00,436.50 L1167.00,436.48 L1169.00,436.45 L1171.00,436.43 L1173.00,436.40 L1175.00,436.37 L1177.00,436.35 L1179.00,436.32 L1181.00,436.30 L1183.00,436.27 L1185.00,436.24 L1187.00,436.21 L1189.00,436.18 L1191.00,436.16 L1193.00,436.13 L1195.00,436.10 L1197.00,436.07 L1199.00,436.04 L1201.00,436.01 L1203.00,435.98 L1205.00,435.95 L1207.00,435.92 L1209.00,435.89 L1211.00,435.86 L1213.00,435.83 L1215.00,435.79 L1217.00,435.76 L1219.00,435.73 L1221.00,435.70 L1223.00,435.66 L1225.00,435.63 L1227.00,435.59 L1229.00,435.56 L1231.00,435.53 L1233.00,435.49 L1235.00,435.46 L1237.00,435.42 L1239.00,435.39 L1241.00,435.35 L1243.00,435.31 L1245.00,435.28 L1247.00,435.24 L1249.00,435.20 L1251.00,435.16 L1253.00,435.12 L1255.00,435.09 L1257.00,435.05 L1259.00,435.01 L1261.00,434.97 L1263.00,434.93 L1265.00,434.89 L1267.00,434.85 L1269.00,434.81 L1271.00,434.76 L1273.00,434.72 L1275.00,434.68 L1277.00,434.64 L1279.00,434.60 L1281.00,434.55 L1283.00,434.51 L1285.00,434.46 L1287.00,434.42 L1289.00,434.38 L1291.00,434.33 L1293.00,434.28 L1295.00,434.24 L1297.00,434.19 L1299.00,434.15 L1301.00,434.10 L1303.00,434.05 L1305.00,434.00 L1307.00,433.95 L1309.00,433.91 L1311.00,433.86 L1313.00,433.81 L1315.00,433.76 L1317.00,433.71 L1319.00,433.66 L1321.00,433.60 L1323.00,433.55 L1325.00,433.50 L1327.00,433.45 L1329.00,433.40 L1331.00,433.34 L1333.00,433.29 L1335.00,433.23 L1337.00,433.18 L1339.00,433.12 L1341.00,433.07 L1343.00,433.01 L1345.00,432.96 L1347.00,432.90 L1349.00,432.84 L1351.00,432.79 L1353.00,432.73 L1355.00,432.67 L1357.00,432.61 L1359.00,432.55 L1361.00,432.49 L1363.00,432.43 L1365.00,432.37 L1367.00,432.31 L1369.00,432.25 L1371.00,432.18 L1373.00,432.12 L1375.00,432.06 L1377.00,431.99 L1379.00,431.93 L1381.00,431.87 L1383.00,431.80 L1385.00,431.74 L1387.00,431.67 L1389.00,431.60 L1391.00,431.54 L1393.00,431.47 L1395.00,431.40 L1397.00,431.33 L1399.00,431.26 L1401.00,431.19 L1403.00,431.12 L1405.00,431.05 L1407.00,430.98 L1409.00,430.91 L1411.00,430.84 L1413.00,430.77 L1415.00,430.70 L1417.00,430.62" fill="none" stroke="#bf00bf" stroke-width="8.6" stroke-linecap="round" stroke-linejoin="round"/>
<path d="M875.00,438.39 L877.00,438.34 L879.01,438.29 L881.01,438.24 L883.01,438.18 L885.02,438.12 L887.02,438.06 L889.03,437.99 L891.03,437.92 L893.03,437.85 L895.04,437.78 L897.04,437.70 L899.04,437.62 L901.05,437.54 L903.05,437.45 L905.06,437.36 L907.06,437.27 L909.06,437.17 L911.07,437.07 L913.07,436.97 L915.07,436.87 L917.08,436.76 L919.08,436.65 L921.09,436.53 L923.09,436.41 L925.09,436.29 L927.10,436.17 L929.10,436.04 L931.10,435.90 L933.11,435.77 L935.11,435.63 L937.12,435.49 L939.12,435.34 L941.12,435.19 L943.13,435.04 L945.13,434.88 L947.13,434.72 L949.14,434.55 L951.14,434.38 L953.15,434.21 L955.15,434.03 L957.15,433.85 L959.16,433.67 L961.16,433.48 L963.16,433.29 L965.17,433.09 L967.17,432.89 L969.18,432.69 L971.18,432.48 L973.18,432.27 L975.19,432.05 L977.19,431.83 L979.19,431.60 L981.20,431.38 L983.20,431.14 L985.21,430.90 L987.21,430.66 L989.21,430.41 L991.22,430.16 L993.22,429.91 L995.22,429.65 L997.23,429.38 L999.23,429.11 L1001.24,428.84 L1003.24,428.56 L1005.24,428.28 L1007.25,427.99 L1009.25,427.70 L1011.25,427.40 L1013.26,427.10 L1015.26,426.79 L1017.27,426.48 L1019.27,426.17 L1021.27,425.85 L1023.28,425.52 L1025.28,425.19 L1027.28,424.85 L1029.29,424.51 L1031.29,424.17 L1033.30,423.81 L1035.30,423.46 L1037.30,423.10 L1039.31,422.73 L1041.31,422.36 L1043.31,421.98 L1045.32,421.60 L1047.32,421.21 L1049.33,420.82 L1051.33,420.42 L1053.33,420.02 L1055.34,419.61 L1057.34,419.20 L1059.34,418.78 L1061.35,418.35 L1063.35,417.92 L1065.36,417.48 L1067.36,417.04 L1069.36,416.59 L1071.37,416.14 L1073.37,415.68 L1075.37,415.22 L1077.38,414.75 L1079.38,414.27 L1081.39,413.79 L1083.39,413.30 L1085.39,412.81 L1087.40,412.31 L1089.40,411.80 L1091.40,411.29 L1093.41,410.77 L1095.41,410.25 L1097.42,409.72 L1099.42,409.18 L1101.42,408.64 L1103.43,408.09 L1105.43,407.54 L1107.43,406.98 L1109.44,406.41 L1111.44,405.84 L1113.45,405.26 L1115.45,404.68 L1117.45,404.08 L1119.46,403.49 L1121.46,402.88 L1123.46,402.27 L1125.47,401.65 L1127.47,401.03 L1129.48,400.40 L1131.48,399.76 L1133.48,399.12 L1135.49,398.47 L1137.49,397.81 L1139.49,397.14 L1141.50,396.47 L1143.50,395.80 L1145.51,395.11 L1147.51,394.42 L1149.51,393.72 L1151.52,393.02 L1153.52,392.31 L1155.52,391.59 L1157.53,390.86 L1159.53,390.13 L1161.54,389.39 L1163.54,388.64 L1165.54,387.89 L1167.55,387.13 L1169.55,386.36 L1171.55,385.58 L1173.56,384.80 L1175.56,384.01 L1177.57,383.21 L1179.57,382.41 L1181.57,381.59 L1183.58,380.77 L1185.58,379.95 L1187.58,379.11 L1189.59,378.27 L1191.59,377.42 L1193.60,376.56 L1195.60,375.70 L1197.60,374.83 L1199.61,373.95 L1201.61,373.06 L1203.61,372.17 L1205.62,371.26 L1207.62,370.35 L1209.63,369.43 L1211.63,368.51 L1213.63,367.57 L1215.64,366.63 L1217.64,365.68 L1219.64,364.72 L1221.65,363.76 L1223.65,362.78 L1225.66,361.80 L1227.66,360.81 L1229.66,359.81 L1231.67,358.81 L1233.67,357.79 L1235.67,356.77 L1237.68,355.74 L1239.68,354.70 L1241.69,353.65 L1243.69,352.59 L1245.69,351.53 L1247.70,350.46 L1249.70,349.38 L1251.70,348.29 L1253.71,347.19 L1255.71,346.08 L1257.72,344.97 L1259.72,343.84 L1261.72,342.71 L1263.73,341.57 L1265.73,340.42 L1267.73,339.26 L1269.74,338.10 L1271.74,336.92 L1273.75,335.74 L1275.75,334.54 L1277.75,333.34 L1279.76,332.13 L1281.76,330.91 L1283.76,329.68 L1285.77,328.44 L1287.77,327.19 L1289.78,325.94 L1291.78,324.67 L1293.78,323.40 L1295.79,322.12 L1297.79,320.82 L1299.79,319.52 L1301.80,318.21 L1303.80,316.89 L1305.81,315.56 L1307.81,314.22 L1309.81,312.87 L1311.82,311.52 L1313.82,310.15 L1315.82,308.77 L1317.83,307.39 L1319.83,305.99 L1321.84,304.59 L1323.84,303.17 L1325.84,301.75 L1327.85,300.31 L1329.85,298.87 L1331.85,297.42 L1333.86,295.95 L1335.86,294.48 L1337.87,293.00 L1339.87,291.51 L1341.87,290.01 L1343.88,288.49 L1345.88,286.97 L1347.88,285.44 L1349.89,283.90 L1351.89,282.35 L1353.90,280.78 L1355.90,279.21 L1357.90,277.63 L1359.91,276.04 L1361.91,274.44 L1363.91,272.82 L1365.92,271.20 L1367.92,269.57 L1369.93,267.93 L1371.93,266.27 L1373.93,264.61 L1375.94,262.93 L1377.94,261.25 L1379.94,259.55 L1381.95,257.85 L1383.95,256.13 L1385.96,254.41 L1387.96,252.67 L1389.96,250.92 L1391.97,249.16 L1393.97,247.39 L1395.97,245.61 L1397.98,243.82 L1399.98,242.02 L1401.99,240.21 L1403.99,238.39 L1405.99,236.55 L1408.00,234.71 L1410.00,232.85" fill="none" stroke="#ff0000" stroke-width="8.6" stroke-dasharray="25.6 25.4" stroke-linecap="butt" stroke-linejoin="round"/>
<path d="M144.50,943.26 L146.51,943.09 L148.51,942.90 L150.52,942.70 L152.53,942.49 L154.53,942.27 L156.54,942.04 L158.54,941.80 L160.55,941.55 L162.56,941.29 L164.56,941.02 L166.57,940.74 L168.57,940.45 L170.58,940.15 L172.59,939.84 L174.59,939.52 L176.60,939.19 L178.61,938.85 L180.61,938.51 L182.62,938.15 L184.62,937.78 L186.63,937.40 L188.64,937.01 L190.64,936.62 L192.65,936.21 L194.66,935.79 L196.66,935.37 L198.67,934.93 L200.68,934.49 L202.68,934.03 L204.69,933.57 L206.69,933.10 L208.70,932.62 L210.71,932.13 L212.71,931.63 L214.72,931.12 L216.73,930.60 L218.73,930.07 L220.74,929.54 L222.74,928.99 L224.75,928.44 L226.76,927.88 L228.76,927.31 L230.77,926.73 L232.78,926.14 L234.78,925.54 L236.79,924.93 L238.79,924.32 L240.80,923.69 L242.81,923.06 L244.81,922.42 L246.82,921.77 L248.82,921.12 L250.83,920.45 L252.84,919.78 L254.84,919.09 L256.85,918.40 L258.86,917.70 L260.86,916.99 L262.87,916.28 L264.88,915.56 L266.88,914.82 L268.89,914.08 L270.89,913.34 L272.90,912.58 L274.91,911.82 L276.91,911.04 L278.92,910.26 L280.93,909.48 L282.93,908.68 L284.94,907.88 L286.94,907.07 L288.95,906.25 L290.96,905.42 L292.96,904.59 L294.97,903.75 L296.98,902.90 L298.98,902.04 L300.99,901.18 L302.99,900.31 L305.00,899.43 L307.01,898.54 L309.01,897.65 L311.02,896.75 L313.02,895.84 L315.03,894.93 L317.04,894.01 L319.04,893.08 L321.05,892.14 L323.06,891.20 L325.06,890.25 L327.07,889.29 L329.08,888.33 L331.08,887.36 L333.09,886.38 L335.09,885.39 L337.10,884.40 L339.11,883.40 L341.11,882.40 L343.12,881.39 L345.12,880.37 L347.13,879.34 L349.14,878.31 L351.14,877.28 L353.15,876.23 L355.16,875.18 L357.16,874.12 L359.17,873.06 L361.18,871.99 L363.18,870.92 L365.19,869.83 L367.19,868.75 L369.20,867.65 L371.21,866.55 L373.21,865.44 L375.22,864.33 L377.23,863.21 L379.23,862.09 L381.24,860.96 L383.24,859.82 L385.25,858.68 L387.26,857.53 L389.26,856.38 L391.27,855.22 L393.27,854.05 L395.28,852.88 L397.29,851.71 L399.29,850.52 L401.30,849.34 L403.31,848.14 L405.31,846.94 L407.32,845.74 L409.32,844.53 L411.33,843.32 L413.34,842.10 L415.34,840.87 L417.35,839.64 L419.36,838.40 L421.36,837.16 L423.37,835.92 L425.38,834.67 L427.38,833.41 L429.39,832.15 L431.39,830.88 L433.40,829.61 L435.41,828.34 L437.41,827.05 L439.42,825.77 L441.43,824.48 L443.43,823.18 L445.44,821.88 L447.44,820.58 L449.45,819.27 L451.46,817.96 L453.46,816.64 L455.47,815.32 L457.48,813.99 L459.48,812.66 L461.49,811.32 L463.49,809.98 L465.50,808.64 L467.51,807.29 L469.51,805.93 L471.52,804.58 L473.53,803.21 L475.53,801.85 L477.54,800.48 L479.54,799.10 L481.55,797.73 L483.56,796.34 L485.56,794.96 L487.57,793.57 L489.57,792.18 L491.58,790.78 L493.59,789.38 L495.59,787.97 L497.60,786.56 L499.61,785.15 L501.61,783.74 L503.62,782.32 L505.62,780.89 L507.63,779.47 L509.64,778.04 L511.64,776.60 L513.65,775.17 L515.66,773.73 L517.66,772.28 L519.67,770.84 L521.67,769.39 L523.68,767.93 L525.69,766.48 L527.69,765.02 L529.70,763.55 L531.71,762.09 L533.71,760.62 L535.72,759.15 L537.73,757.67 L539.73,756.19 L541.74,754.71 L543.74,753.23 L545.75,751.74 L547.76,750.26 L549.76,748.76 L551.77,747.27 L553.78,745.77 L555.78,744.27 L557.79,742.77 L559.79,741.27 L561.80,739.76 L563.81,738.25 L565.81,736.74 L567.82,735.22 L569.83,733.71 L571.83,732.19 L573.84,730.67 L575.84,729.15 L577.85,727.62 L579.86,726.09 L581.86,724.56 L583.87,723.03 L585.88,721.50 L587.88,719.96 L589.89,718.42 L591.89,716.88 L593.90,715.34 L595.91,713.80 L597.91,712.25 L599.92,710.71 L601.92,709.16 L603.93,707.61 L605.94,706.06 L607.94,704.50 L609.95,702.95 L611.96,701.39 L613.96,699.83 L615.97,698.27 L617.98,696.71 L619.98,695.15 L621.99,693.59 L623.99,692.02 L626.00,690.45 L628.01,688.89 L630.01,687.32 L632.02,685.75 L634.03,684.18 L636.03,682.61 L638.04,681.03 L640.04,679.46 L642.05,677.88 L644.06,676.31 L646.06,674.73 L648.07,673.15 L650.08,671.57 L652.08,670.00 L654.09,668.42 L656.09,666.84 L658.10,665.25 L660.11,663.67 L662.11,662.09 L664.12,660.51 L666.12,658.92 L668.13,657.34 L670.14,655.76 L672.14,654.17 L674.15,652.59 L676.16,651.00 L678.16,649.41 L680.17,647.83 L682.18,646.24 L684.18,644.66 L686.19,643.07 L688.19,641.48 L690.20,639.90" fill="none" stroke="#008000" stroke-width="8.6" stroke-linecap="round" stroke-linejoin="round"/>
<path d="M144.50,943.20 L146.51,943.11 L148.51,943.00 L150.52,942.89 L152.53,942.77 L154.53,942.64 L156.54,942.50 L158.54,942.36 L160.55,942.21 L162.56,942.05 L164.56,941.88 L166.57,941.71 L168.57,941.53 L170.58,941.34 L172.59,941.14 L174.59,940.94 L176.60,940.72 L178.61,940.50 L180.61,940.28 L182.62,940.04 L184.62,939.80 L186.63,939.55 L188.64,939.29 L190.64,939.03 L192.65,938.76 L194.66,938.48 L196.66,938.19 L198.67,937.90 L200.68,937.60 L202.68,937.29 L204.69,936.98 L206.69,936.65 L208.70,936.32 L210.71,935.99 L212.71,935.64 L214.72,935.29 L216.73,934.93 L218.73,934.57 L220.74,934.20 L222.74,933.82 L224.75,933.43 L226.76,933.04 L228.76,932.64 L230.77,932.23 L232.78,931.81 L234.78,931.39 L236.79,930.96 L238.79,930.53 L240.80,930.08 L242.81,929.64 L244.81,929.18 L246.82,928.72 L248.82,928.25 L250.83,927.77 L252.84,927.29 L254.84,926.80 L256.85,926.30 L258.86,925.80 L260.86,925.29 L262.87,924.77 L264.88,924.25 L266.88,923.72 L268.89,923.18 L270.89,922.64 L272.90,922.09 L274.91,921.53 L276.91,920.97 L278.92,920.40 L280.93,919.82 L282.93,919.24 L284.94,918.65 L286.94,918.05 L288.95,917.45 L290.96,916.84 L292.96,916.23 L294.97,915.61 L296.98,914.98 L298.98,914.35 L300.99,913.71 L302.99,913.06 L305.00,912.41 L307.01,911.75 L309.01,911.09 L311.02,910.41 L313.02,909.74 L315.03,909.05 L317.04,908.36 L319.04,907.67 L321.05,906.97 L323.06,906.26 L325.06,905.55 L327.07,904.83 L329.08,904.10 L331.08,903.37 L333.09,902.63 L335.09,901.89 L337.10,901.14 L339.11,900.38 L341.11,899.62 L343.12,898.85 L345.12,898.08 L347.13,897.30 L349.14,896.51 L351.14,895.72 L353.15,894.93 L355.16,894.12 L357.16,893.31 L359.17,892.50 L361.18,891.68 L363.18,890.86 L365.19,890.02 L367.19,889.19 L369.20,888.35 L371.21,887.50 L373.21,886.64 L375.22,885.79 L377.23,884.92 L379.23,884.05 L381.24,883.17 L383.24,882.29 L385.25,881.41 L387.26,880.52 L389.26,879.62 L391.27,878.71 L393.27,877.81 L395.28,876.89 L397.29,875.97 L399.29,875.05 L401.30,874.12 L403.31,873.19 L405.31,872.25 L407.32,871.30 L409.32,870.35 L411.33,869.39 L413.34,868.43 L415.34,867.47 L417.35,866.49 L419.36,865.52 L421.36,864.54 L423.37,863.55 L425.38,862.56 L427.38,861.56 L429.39,860.56 L431.39,859.55 L433.40,858.54 L435.41,857.52 L437.41,856.50 L439.42,855.48 L441.43,854.44 L443.43,853.41 L445.44,852.37 L447.44,851.32 L449.45,850.27 L451.46,849.21 L453.46,848.15 L455.47,847.09 L457.48,846.02 L459.48,844.94 L461.49,843.86 L463.49,842.78 L465.50,841.69 L467.51,840.59 L469.51,839.50 L471.52,838.39 L473.53,837.29 L475.53,836.17 L477.54,835.06 L479.54,833.93 L481.55,832.81 L483.56,831.68 L485.56,830.54 L487.57,829.40 L489.57,828.26 L491.58,827.11 L493.59,825.96 L495.59,824.80 L497.60,823.64 L499.61,822.48 L501.61,821.31 L503.62,820.13 L505.62,818.95 L507.63,817.77 L509.64,816.58 L511.64,815.39 L513.65,814.20 L515.66,813.00 L517.66,811.79 L519.67,810.59 L521.67,809.37 L523.68,808.16 L525.69,806.94 L527.69,805.71 L529.70,804.49 L531.71,803.25 L533.71,802.02 L535.72,800.78 L537.73,799.53 L539.73,798.28 L541.74,797.03 L543.74,795.78 L545.75,794.52 L547.76,793.25 L549.76,791.98 L551.77,790.71 L553.78,789.44 L555.78,788.16 L557.79,786.88 L559.79,785.59 L561.80,784.30 L563.81,783.00 L565.81,781.71 L567.82,780.41 L569.83,779.10 L571.83,777.79 L573.84,776.48 L575.84,775.16 L577.85,773.84 L579.86,772.52 L581.86,771.19 L583.87,769.86 L585.88,768.53 L587.88,767.19 L589.89,765.85 L591.89,764.51 L593.90,763.16 L595.91,761.81 L597.91,760.46 L599.92,759.10 L601.92,757.74 L603.93,756.38 L605.94,755.01 L607.94,753.64 L609.95,752.26 L611.96,750.89 L613.96,749.51 L615.97,748.12 L617.98,746.74 L619.98,745.35 L621.99,743.95 L623.99,742.56 L626.00,741.16 L628.01,739.76 L630.01,738.35 L632.02,736.94 L634.03,735.53 L636.03,734.12 L638.04,732.70 L640.04,731.28 L642.05,729.85 L644.06,728.43 L646.06,727.00 L648.07,725.57 L650.08,724.13 L652.08,722.70 L654.09,721.25 L656.09,719.81 L658.10,718.37 L660.11,716.92 L662.11,715.46 L664.12,714.01 L666.12,712.55 L668.13,711.09 L670.14,709.63 L672.14,708.17 L674.15,706.70 L676.16,705.23 L678.16,703.76 L680.17,702.28 L682.18,700.80 L684.18,699.32 L686.19,697.84 L688.19,696.35 L690.20,694.87" fill="none" stroke="#0000ff" stroke-width="8.6" stroke-linecap="round" stroke-linejoin="round"/>
<path d="M144.50,942.80 L146.51,942.80 L148.51,942.80 L150.52,942.80 L152.53,942.80 L154.53,942.80 L156.54,942.80 L158.54,942.80 L160.55,942.80 L162.56,942.80 L164.56,942.80 L166.57,942.80 L168.57,942.80 L170.58,942.80 L172.59,942.80 L174.59,942.80 L176.60,942.80 L178.61,942.80 L180.61,942.80 L182.62,942.80 L184.62,942.80 L186.63,942.80 L188.64,942.80 L190.64,942.80 L192.65,942.80 L194.66,942.80 L196.66,942.80 L198.67,942.80 L200.68,942.80 L202.68,942.80 L204.69,942.80 L206.69,942.80 L208.70,942.80 L210.71,942.80 L212.71,942.80 L214.72,942.80 L216.73,942.80 L218.73,942.80 L220.74,942.80 L222.74,942.80 L224.75,942.80 L226.76,942.80 L228.76,942.80 L230.77,942.80 L232.78,942.80 L234.78,942.80 L236.79,942.80 L238.79,942.80 L240.80,942.80 L242.81,942.80 L244.81,942.80 L246.82,942.80 L248.82,942.80 L250.83,942.80 L252.84,942.80 L254.84,942.80 L256.85,942.80 L258.86,942.80 L260.86,942.80 L262.87,942.80 L264.88,942.80 L266.88,942.80 L268.89,942.80 L270.89,942.80 L272.90,942.80 L274.91,942.80 L276.91,942.80 L278.92,942.80 L280.93,942.80 L282.93,942.80 L284.94,942.80 L286.94,942.80 L288.95,942.80 L290.96,942.80 L292.96,942.80 L294.97,942.80 L296.98,942.80 L298.98,942.80 L300.99,942.80 L302.99,942.80 L305.00,942.80 L307.01,942.80 L309.01,942.80 L311.02,942.80 L313.02,942.80 L315.03,942.80 L317.04,942.80 L319.04,942.80 L321.05,942.80 L323.06,942.80 L325.06,942.80 L327.07,942.80 L329.08,942.80 L331.08,942.80 L333.09,942.80 L335.09,942.80 L337.10,942.80 L339.11,942.80 L341.11,942.80 L343.12,942.80 L345.12,942.80 L347.13,942.80 L349.14,942.80 L351.14,942.80 L353.15,942.80 L355.16,942.80 L357.16,942.80 L359.17,942.80 L361.18,942.80 L363.18,942.80 L365.19,942.80 L367.19,942.80 L369.20,942.80 L371.21,942.80 L373.21,942.80 L375.22,942.80 L377.23,942.80 L379.23,942.80 L381.24,942.80 L383.24,942.80 L385.25,942.80 L387.26,942.80 L389.26,942.80 L391.27,942.80 L393.27,942.80 L395.28,942.80 L397.29,942.80 L399.29,942.80 L401.30,942.80 L403.31,942.80 L405.31,942.80 L407.32,942.80 L409.32,942.80 L411.33,942.80 L413.34,942.80 L415.34,942.80 L417.35,942.80 L419.36,942.80 L421.36,942.80 L423.37,942.80 L425.38,942.80 L427.38,942.80 L429.39,942.80 L431.39,942.80 L433.40,942.80 L435.41,942.80 L437.41,942.80 L439.42,942.80 L441.43,942.80 L443.43,942.80 L445.44,942.80 L447.44,942.80 L449.45,942.80 L451.46,942.80 L453.46,942.80 L455.47,942.80 L457.48,942.80 L459.48,942.80 L461.49,942.80 L463.49,942.80 L465.50,942.80 L467.51,942.80 L469.51,942.80 L471.52,942.80 L473.53,942.80 L475.53,942.80 L477.54,942.80 L479.54,942.80 L481.55,942.80 L483.56,942.80 L485.56,942.80 L487.57,942.80 L489.57,942.80 L491.58,942.80 L493.59,942.80 L495.59,942.80 L497.60,942.80 L499.61,942.80 L501.61,942.80 L503.62,942.80 L505.62,942.80 L507.63,942.80 L509.64,942.80 L511.64,942.80 L513.65,942.80 L515.66,942.80 L517.66,942.80 L519.67,942.80 L521.67,942.80 L523.68,942.80 L525.69,942.80 L527.69,942.80 L529.70,942.80 L531.71,942.80 L533.71,942.80 L535.72,942.80 L537.73,942.80 L539.73,942.80 L541.74,942.80 L543.74,942.80 L545.75,942.80 L547.76,942.80 L549.76,942.80 L551.77,942.80 L553.78,942.80 L555.78,942.80 L557.79,942.80 L559.79,942.80 L561.80,942.80 L563.81,942.80 L565.81,942.80 L567.82,942.80 L569.83,942.80 L571.83,942.80 L573.84,942.80 L575.84,942.80 L577.85,942.80 L579.86,942.80 L581.86,942.80 L583.87,942.80 L585.88,942.80 L587.88,942.80 L589.89,942.80 L591.89,942.80 L593.90,942.80 L595.91,942.80 L597.91,942.80 L599.92,942.80 L601.92,942.80 L603.93,942.80 L605.94,942.80 L607.94,942.80 L609.95,942.80 L611.96,942.80 L613.96,942.80 L615.97,942.80 L617.98,942.80 L619.98,942.80 L621.99,942.80 L623.99,942.80 L626.00,942.80 L628.01,942.80 L630.01,942.80 L632.02,942.80 L634.03,942.80 L636.03,942.80 L638.04,942.80 L640.04,942.80 L642.05,942.80 L644.06,942.80 L646.06,942.80 L648.07,942.80 L650.08,942.80 L652.08,942.80 L654.09,942.80 L656.09,942.80 L658.10,942.80 L660.11,942.80 L662.11,942.80 L664.12,942.80 L666.12,942.80 L668.13,942.80 L670.14,942.80 L672.14,942.80 L674.15,942.80 L676.16,942.80 L678.16,942.80 L680.17,942.80 L682.18,942.80 L684.18,942.80 L686.19,942.80 L688.19,942.80 L690.20,942.80" fill="none" stroke="#bf00bf" stroke-width="8.6" stroke-linecap="round" stroke-linejoin="round"/>
<path d="M144.50,943.34 L146.51,943.06 L148.51,942.77 L150.52,942.46 L152.52,942.15 L154.53,941.82 L156.53,941.49 L158.54,941.14 L160.54,940.78 L162.55,940.40 L164.56,940.02 L166.56,939.63 L168.57,939.22 L170.57,938.81 L172.58,938.38 L174.58,937.94 L176.59,937.50 L178.59,937.04 L180.60,936.57 L182.60,936.09 L184.61,935.60 L186.62,935.09 L188.62,934.58 L190.63,934.06 L192.63,933.53 L194.64,932.98 L196.64,932.43 L198.65,931.87 L200.65,931.29 L202.66,930.71 L204.67,930.12 L206.67,929.51 L208.68,928.90 L210.68,928.27 L212.69,927.64 L214.69,927.00 L216.70,926.34 L218.70,925.68 L220.71,925.01 L222.72,924.33 L224.72,923.64 L226.73,922.94 L228.73,922.23 L230.74,921.51 L232.74,920.78 L234.75,920.04 L236.75,919.29 L238.76,918.54 L240.76,917.77 L242.77,917.00 L244.78,916.22 L246.78,915.43 L248.79,914.62 L250.79,913.82 L252.80,913.00 L254.80,912.17 L256.81,911.34 L258.81,910.49 L260.82,909.64 L262.83,908.78 L264.83,907.91 L266.84,907.03 L268.84,906.15 L270.85,905.25 L272.85,904.35 L274.86,903.44 L276.86,902.52 L278.87,901.60 L280.88,900.66 L282.88,899.72 L284.89,898.77 L286.89,897.81 L288.90,896.85 L290.90,895.88 L292.91,894.90 L294.91,893.91 L296.92,892.91 L298.92,891.91 L300.93,890.90 L302.94,889.88 L304.94,888.86 L306.95,887.83 L308.95,886.79 L310.96,885.74 L312.96,884.69 L314.97,883.63 L316.97,882.56 L318.98,881.49 L320.99,880.41 L322.99,879.32 L325.00,878.23 L327.00,877.13 L329.01,876.02 L331.01,874.90 L333.02,873.78 L335.02,872.66 L337.03,871.52 L339.03,870.38 L341.04,869.24 L343.05,868.09 L345.05,866.93 L347.06,865.77 L349.06,864.60 L351.07,863.42 L353.07,862.24 L355.08,861.05 L357.08,859.86 L359.09,858.66 L361.10,857.45 L363.10,856.24 L365.11,855.02 L367.11,853.80 L369.12,852.58 L371.12,851.34 L373.13,850.10 L375.13,848.86 L377.14,847.61 L379.15,846.36 L381.15,845.10 L383.16,843.84 L385.16,842.57 L387.17,841.29 L389.17,840.01 L391.18,838.73 L393.18,837.44 L395.19,836.15 L397.19,834.85 L399.20,833.55 L401.21,832.24 L403.21,830.93 L405.22,829.61 L407.22,828.29 L409.23,826.97 L411.23,825.64 L413.24,824.30 L415.24,822.97 L417.25,821.62 L419.26,820.28 L421.26,818.93 L423.27,817.57 L425.27,816.22 L427.28,814.85 L429.28,813.49 L431.29,812.12 L433.29,810.75 L435.30,809.37 L437.31,807.99 L439.31,806.61 L441.32,805.22 L443.32,803.83 L445.33,802.44 L447.33,801.04 L449.34,799.64 L451.34,798.23 L453.35,796.83 L455.35,795.42 L457.36,794.00 L459.37,792.59 L461.37,791.17 L463.38,789.75 L465.38,788.32 L467.39,786.90 L469.39,785.47 L471.40,784.03 L473.40,782.60 L475.41,781.16 L477.42,779.72 L479.42,778.28 L481.43,776.84 L483.43,775.39 L485.44,773.94 L487.44,772.49 L489.45,771.03 L491.45,769.58 L493.46,768.12 L495.47,766.66 L497.47,765.20 L499.48,763.74 L501.48,762.27 L503.49,760.80 L505.49,759.33 L507.50,757.86 L509.50,756.39 L511.51,754.92 L513.51,753.44 L515.52,751.97 L517.53,750.49 L519.53,749.01 L521.54,747.53 L523.54,746.05 L525.55,744.57 L527.55,743.08 L529.56,741.60 L531.56,740.11 L533.57,738.63 L535.58,737.14 L537.58,735.65 L539.59,734.16 L541.59,732.67 L543.60,731.18 L545.60,729.69 L547.61,728.20 L549.61,726.71 L551.62,725.22 L553.62,723.73 L555.63,722.23 L557.64,720.74 L559.64,719.25 L561.65,717.75 L563.65,716.26 L565.66,714.77 L567.66,713.28 L569.67,711.78 L571.67,710.29 L573.68,708.80 L575.69,707.30 L577.69,705.81 L579.70,704.32 L581.70,702.83 L583.71,701.34 L585.71,699.85 L587.72,698.36 L589.72,696.87 L591.73,695.38 L593.74,693.89 L595.74,692.40 L597.75,690.92 L599.75,689.43 L601.76,687.95 L603.76,686.47 L605.77,684.98 L607.77,683.50 L609.78,682.02 L611.78,680.55 L613.79,679.07 L615.80,677.59 L617.80,676.12 L619.81,674.65 L621.81,673.18 L623.82,671.71 L625.82,670.24 L627.83,668.77 L629.83,667.31 L631.84,665.85 L633.85,664.38 L635.85,662.93 L637.86,661.47 L639.86,660.01 L641.87,658.56 L643.87,657.11 L645.88,655.66 L647.88,654.22 L649.89,652.77 L651.90,651.33 L653.90,649.89 L655.91,648.46 L657.91,647.02 L659.92,645.59 L661.92,644.16 L663.93,642.74 L665.93,641.32 L667.94,639.89 L669.94,638.48 L671.95,637.06 L673.96,635.65 L675.96,634.24 L677.97,632.84 L679.97,631.44 L681.98,630.04 L683.98,628.64 L685.99,627.25 L687.99,625.86 L690.00,624.47" fill="none" stroke="#ff0000" stroke-width="8.6" stroke-dasharray="25.6 25.4" stroke-linecap="butt" stroke-linejoin="round"/>
<path d="M875.00,943.82 L877.00,943.63 L879.00,943.44 L881.00,943.23 L883.00,943.01 L885.00,942.79 L887.00,942.55 L889.00,942.30 L891.00,942.05 L893.00,941.78 L895.00,941.51 L897.00,941.22 L899.00,940.93 L901.00,940.63 L903.00,940.31 L905.00,939.99 L907.00,939.66 L909.00,939.32 L911.00,938.97 L913.00,938.61 L915.00,938.24 L917.00,937.86 L919.00,937.48 L921.00,937.08 L923.00,936.68 L925.00,936.26 L927.00,935.84 L929.00,935.41 L931.00,934.96 L933.00,934.51 L935.00,934.06 L937.00,933.59 L939.00,933.11 L941.00,932.63 L943.00,932.13 L945.00,931.63 L947.00,931.12 L949.00,930.60 L951.00,930.07 L953.00,929.53 L955.00,928.99 L957.00,928.43 L959.00,927.87 L961.00,927.30 L963.00,926.72 L965.00,926.13 L967.00,925.54 L969.00,924.93 L971.00,924.32 L973.00,923.70 L975.00,923.07 L977.00,922.43 L979.00,921.79 L981.00,921.13 L983.00,920.47 L985.00,919.80 L987.00,919.12 L989.00,918.44 L991.00,917.74 L993.00,917.04 L995.00,916.33 L997.00,915.62 L999.00,914.89 L1001.00,914.16 L1003.00,913.42 L1005.00,912.67 L1007.00,911.92 L1009.00,911.15 L1011.00,910.38 L1013.00,909.60 L1015.00,908.82 L1017.00,908.02 L1019.00,907.22 L1021.00,906.42 L1023.00,905.60 L1025.00,904.78 L1027.00,903.95 L1029.00,903.11 L1031.00,902.27 L1033.00,901.41 L1035.00,900.56 L1037.00,899.69 L1039.00,898.82 L1041.00,897.94 L1043.00,897.05 L1045.00,896.15 L1047.00,895.25 L1049.00,894.35 L1051.00,893.43 L1053.00,892.51 L1055.00,891.58 L1057.00,890.64 L1059.00,889.70 L1061.00,888.75 L1063.00,887.80 L1065.00,886.84 L1067.00,885.87 L1069.00,884.89 L1071.00,883.91 L1073.00,882.92 L1075.00,881.93 L1077.00,880.93 L1079.00,879.92 L1081.00,878.90 L1083.00,877.88 L1085.00,876.86 L1087.00,875.82 L1089.00,874.78 L1091.00,873.74 L1093.00,872.69 L1095.00,871.63 L1097.00,870.57 L1099.00,869.50 L1101.00,868.42 L1103.00,867.34 L1105.00,866.25 L1107.00,865.16 L1109.00,864.06 L1111.00,862.95 L1113.00,861.84 L1115.00,860.72 L1117.00,859.60 L1119.00,858.47 L1121.00,857.34 L1123.00,856.20 L1125.00,855.05 L1127.00,853.90 L1129.00,852.74 L1131.00,851.58 L1133.00,850.41 L1135.00,849.24 L1137.00,848.06 L1139.00,846.88 L1141.00,845.69 L1143.00,844.49 L1145.00,843.29 L1147.00,842.09 L1149.00,840.88 L1151.00,839.66 L1153.00,838.44 L1155.00,837.22 L1157.00,835.99 L1159.00,834.75 L1161.00,833.51 L1163.00,832.26 L1165.00,831.01 L1167.00,829.76 L1169.00,828.50 L1171.00,827.23 L1173.00,825.96 L1175.00,824.69 L1177.00,823.41 L1179.00,822.12 L1181.00,820.83 L1183.00,819.54 L1185.00,818.24 L1187.00,816.94 L1189.00,815.63 L1191.00,814.32 L1193.00,813.00 L1195.00,811.68 L1197.00,810.36 L1199.00,809.03 L1201.00,807.70 L1203.00,806.36 L1205.00,805.02 L1207.00,803.67 L1209.00,802.32 L1211.00,800.96 L1213.00,799.61 L1215.00,798.24 L1217.00,796.88 L1219.00,795.51 L1221.00,794.13 L1223.00,792.75 L1225.00,791.37 L1227.00,789.98 L1229.00,788.59 L1231.00,787.20 L1233.00,785.80 L1235.00,784.40 L1237.00,782.99 L1239.00,781.58 L1241.00,780.17 L1243.00,778.76 L1245.00,777.34 L1247.00,775.91 L1249.00,774.49 L1251.00,773.06 L1253.00,771.62 L1255.00,770.18 L1257.00,768.74 L1259.00,767.30 L1261.00,765.85 L1263.00,764.40 L1265.00,762.95 L1267.00,761.49 L1269.00,760.03 L1271.00,758.57 L1273.00,757.10 L1275.00,755.64 L1277.00,754.16 L1279.00,752.69 L1281.00,751.21 L1283.00,749.73 L1285.00,748.25 L1287.00,746.76 L1289.00,745.27 L1291.00,743.78 L1293.00,742.28 L1295.00,740.79 L1297.00,739.28 L1299.00,737.78 L1301.00,736.28 L1303.00,734.77 L1305.00,733.26 L1307.00,731.75 L1309.00,730.23 L1311.00,728.71 L1313.00,727.19 L1315.00,725.67 L1317.00,724.14 L1319.00,722.62 L1321.00,721.09 L1323.00,719.56 L1325.00,718.02 L1327.00,716.48 L1329.00,714.95 L1331.00,713.41 L1333.00,711.86 L1335.00,710.32 L1337.00,708.77 L1339.00,707.23 L1341.00,705.67 L1343.00,704.12 L1345.00,702.57 L1347.00,701.01 L1349.00,699.46 L1351.00,697.90 L1353.00,696.34 L1355.00,694.77 L1357.00,693.21 L1359.00,691.64 L1361.00,690.08 L1363.00,688.51 L1365.00,686.94 L1367.00,685.36 L1369.00,683.79 L1371.00,682.22 L1373.00,680.64 L1375.00,679.06 L1377.00,677.48 L1379.00,675.90 L1381.00,674.32 L1383.00,672.74 L1385.00,671.16 L1387.00,669.57 L1389.00,667.99 L1391.00,666.40 L1393.00,664.81 L1395.00,663.22 L1397.00,661.63 L1399.00,660.04 L1401.00,658.45 L1403.00,656.86 L1405.00,655.27 L1407.00,653.67 L1409.00,652.08 L1411.00,650.48 L1413.00,648.88 L1415.00,647.29 L1417.00,645.69" fill="none" stroke="#008000" stroke-width="8.6" stroke-linecap="round" stroke-linejoin="round"/>
<path d="M875.00,943.12 L877.00,943.05 L879.00,942.97 L881.00,942.88 L883.00,942.79 L885.00,942.69 L887.00,942.58 L889.00,942.47 L891.00,942.34 L893.00,942.21 L895.00,942.07 L897.00,941.92 L899.00,941.77 L901.00,941.61 L903.00,941.44 L905.00,941.26 L907.00,941.08 L909.00,940.88 L911.00,940.68 L913.00,940.48 L915.00,940.26 L917.00,940.04 L919.00,939.81 L921.00,939.57 L923.00,939.33 L925.00,939.08 L927.00,938.82 L929.00,938.55 L931.00,938.28 L933.00,938.00 L935.00,937.71 L937.00,937.41 L939.00,937.11 L941.00,936.80 L943.00,936.48 L945.00,936.16 L947.00,935.82 L949.00,935.48 L951.00,935.14 L953.00,934.78 L955.00,934.42 L957.00,934.05 L959.00,933.68 L961.00,933.30 L963.00,932.91 L965.00,932.51 L967.00,932.11 L969.00,931.70 L971.00,931.28 L973.00,930.86 L975.00,930.42 L977.00,929.98 L979.00,929.54 L981.00,929.09 L983.00,928.63 L985.00,928.16 L987.00,927.69 L989.00,927.21 L991.00,926.72 L993.00,926.23 L995.00,925.72 L997.00,925.22 L999.00,924.70 L1001.00,924.18 L1003.00,923.65 L1005.00,923.12 L1007.00,922.58 L1009.00,922.03 L1011.00,921.47 L1013.00,920.91 L1015.00,920.34 L1017.00,919.77 L1019.00,919.19 L1021.00,918.60 L1023.00,918.00 L1025.00,917.40 L1027.00,916.79 L1029.00,916.18 L1031.00,915.56 L1033.00,914.93 L1035.00,914.29 L1037.00,913.65 L1039.00,913.00 L1041.00,912.35 L1043.00,911.69 L1045.00,911.02 L1047.00,910.35 L1049.00,909.67 L1051.00,908.98 L1053.00,908.29 L1055.00,907.59 L1057.00,906.89 L1059.00,906.18 L1061.00,905.46 L1063.00,904.73 L1065.00,904.00 L1067.00,903.26 L1069.00,902.52 L1071.00,901.77 L1073.00,901.02 L1075.00,900.25 L1077.00,899.49 L1079.00,898.71 L1081.00,897.93 L1083.00,897.14 L1085.00,896.35 L1087.00,895.55 L1089.00,894.75 L1091.00,893.94 L1093.00,893.12 L1095.00,892.30 L1097.00,891.47 L1099.00,890.63 L1101.00,889.79 L1103.00,888.94 L1105.00,888.09 L1107.00,887.23 L1109.00,886.36 L1111.00,885.49 L1113.00,884.62 L1115.00,883.73 L1117.00,882.84 L1119.00,881.95 L1121.00,881.05 L1123.00,880.14 L1125.00,879.23 L1127.00,878.31 L1129.00,877.39 L1131.00,876.46 L1133.00,875.52 L1135.00,874.58 L1137.00,873.63 L1139.00,872.68 L1141.00,871.72 L1143.00,870.76 L1145.00,869.79 L1147.00,868.81 L1149.00,867.83 L1151.00,866.85 L1153.00,865.85 L1155.00,864.86 L1157.00,863.85 L1159.00,862.84 L1161.00,861.83 L1163.00,860.81 L1165.00,859.78 L1167.00,858.75 L1169.00,857.72 L1171.00,856.67 L1173.00,855.63 L1175.00,854.57 L1177.00,853.51 L1179.00,852.45 L1181.00,851.38 L1183.00,850.31 L1185.00,849.23 L1187.00,848.14 L1189.00,847.05 L1191.00,845.96 L1193.00,844.85 L1195.00,843.75 L1197.00,842.64 L1199.00,841.52 L1201.00,840.40 L1203.00,839.27 L1205.00,838.14 L1207.00,837.00 L1209.00,835.86 L1211.00,834.71 L1213.00,833.55 L1215.00,832.40 L1217.00,831.23 L1219.00,830.06 L1221.00,828.89 L1223.00,827.71 L1225.00,826.53 L1227.00,825.34 L1229.00,824.15 L1231.00,822.95 L1233.00,821.74 L1235.00,820.53 L1237.00,819.32 L1239.00,818.10 L1241.00,816.88 L1243.00,815.65 L1245.00,814.42 L1247.00,813.18 L1249.00,811.94 L1251.00,810.69 L1253.00,809.43 L1255.00,808.18 L1257.00,806.91 L1259.00,805.65 L1261.00,804.38 L1263.00,803.10 L1265.00,801.82 L1267.00,800.53 L1269.00,799.24 L1271.00,797.95 L1273.00,796.65 L1275.00,795.34 L1277.00,794.03 L1279.00,792.72 L1281.00,791.40 L1283.00,790.08 L1285.00,788.75 L1287.00,787.42 L1289.00,786.08 L1291.00,784.74 L1293.00,783.39 L1295.00,782.04 L1297.00,780.69 L1299.00,779.33 L1301.00,777.96 L1303.00,776.59 L1305.00,775.22 L1307.00,773.85 L1309.00,772.46 L1311.00,771.08 L1313.00,769.69 L1315.00,768.29 L1317.00,766.89 L1319.00,765.49 L1321.00,764.08 L1323.00,762.67 L1325.00,761.26 L1327.00,759.84 L1329.00,758.41 L1331.00,756.98 L1333.00,755.55 L1335.00,754.11 L1337.00,752.67 L1339.00,751.23 L1341.00,749.78 L1343.00,748.32 L1345.00,746.87 L1347.00,745.41 L1349.00,743.94 L1351.00,742.47 L1353.00,741.00 L1355.00,739.52 L1357.00,738.04 L1359.00,736.55 L1361.00,735.06 L1363.00,733.57 L1365.00,732.07 L1367.00,730.57 L1369.00,729.06 L1371.00,727.55 L1373.00,726.04 L1375.00,724.52 L1377.00,723.00 L1379.00,721.47 L1381.00,719.95 L1383.00,718.41 L1385.00,716.88 L1387.00,715.34 L1389.00,713.79 L1391.00,712.25 L1393.00,710.69 L1395.00,709.14 L1397.00,707.58 L1399.00,706.02 L1401.00,704.45 L1403.00,702.88 L1405.00,701.31 L1407.00,699.73 L1409.00,698.15 L1411.00,696.57 L1413.00,694.98 L1415.00,693.39 L1417.00,691.79" fill="none" stroke="#0000ff" stroke-width="8.6" stroke-linecap="round" stroke-linejoin="round"/>
<path d="M875.00,943.32 L877.00,943.12 L879.00,942.92 L881.00,942.72 L883.00,942.50 L885.00,942.28 L887.00,942.05 L889.00,941.81 L891.00,941.57 L893.00,941.32 L895.00,941.07 L897.00,940.81 L899.00,940.54 L901.00,940.27 L903.00,940.00 L905.00,939.72 L907.00,939.43 L909.00,939.14 L911.00,938.85 L913.00,938.55 L915.00,938.25 L917.00,937.95 L919.00,937.64 L921.00,937.33 L923.00,937.01 L925.00,936.69 L927.00,936.37 L929.00,936.05 L931.00,935.73 L933.00,935.40 L935.00,935.08 L937.00,934.75 L939.00,934.42 L941.00,934.09 L943.00,933.75 L945.00,933.42 L947.00,933.09 L949.00,932.76 L951.00,932.42 L953.00,932.09 L955.00,931.76 L957.00,931.43 L959.00,931.09 L961.00,930.76 L963.00,930.43 L965.00,930.10 L967.00,929.77 L969.00,929.44 L971.00,929.11 L973.00,928.78 L975.00,928.45 L977.00,928.12 L979.00,927.80 L981.00,927.47 L983.00,927.14 L985.00,926.82 L987.00,926.49 L989.00,926.17 L991.00,925.85 L993.00,925.52 L995.00,925.20 L997.00,924.88 L999.00,924.56 L1001.00,924.24 L1003.00,923.93 L1005.00,923.61 L1007.00,923.30 L1009.00,922.98 L1011.00,922.67 L1013.00,922.36 L1015.00,922.05 L1017.00,921.74 L1019.00,921.43 L1021.00,921.12 L1023.00,920.82 L1025.00,920.52 L1027.00,920.21 L1029.00,919.91 L1031.00,919.62 L1033.00,919.32 L1035.00,919.02 L1037.00,918.73 L1039.00,918.44 L1041.00,918.15 L1043.00,917.86 L1045.00,917.57 L1047.00,917.29 L1049.00,917.00 L1051.00,916.72 L1053.00,916.44 L1055.00,916.16 L1057.00,915.89 L1059.00,915.61 L1061.00,915.34 L1063.00,915.07 L1065.00,914.81 L1067.00,914.54 L1069.00,914.28 L1071.00,914.02 L1073.00,913.76 L1075.00,913.50 L1077.00,913.25 L1079.00,912.99 L1081.00,912.74 L1083.00,912.49 L1085.00,912.24 L1087.00,912.00 L1089.00,911.76 L1091.00,911.51 L1093.00,911.27 L1095.00,911.04 L1097.00,910.80 L1099.00,910.56 L1101.00,910.33 L1103.00,910.10 L1105.00,909.87 L1107.00,909.64 L1109.00,909.42 L1111.00,909.20 L1113.00,908.97 L1115.00,908.75 L1117.00,908.53 L1119.00,908.32 L1121.00,908.10 L1123.00,907.89 L1125.00,907.68 L1127.00,907.47 L1129.00,907.26 L1131.00,907.05 L1133.00,906.84 L1135.00,906.64 L1137.00,906.44 L1139.00,906.24 L1141.00,906.04 L1143.00,905.84 L1145.00,905.64 L1147.00,905.45 L1149.00,905.25 L1151.00,905.06 L1153.00,904.87 L1155.00,904.68 L1157.00,904.49 L1159.00,904.31 L1161.00,904.12 L1163.00,903.94 L1165.00,903.76 L1167.00,903.58 L1169.00,903.40 L1171.00,903.22 L1173.00,903.04 L1175.00,902.87 L1177.00,902.69 L1179.00,902.52 L1181.00,902.35 L1183.00,902.18 L1185.00,902.01 L1187.00,901.84 L1189.00,901.68 L1191.00,901.51 L1193.00,901.35 L1195.00,901.18 L1197.00,901.02 L1199.00,900.86 L1201.00,900.70 L1203.00,900.54 L1205.00,900.39 L1207.00,900.23 L1209.00,900.08 L1211.00,899.92 L1213.00,899.77 L1215.00,899.62 L1217.00,899.47 L1219.00,899.32 L1221.00,899.17 L1223.00,899.02 L1225.00,898.87 L1227.00,898.73 L1229.00,898.58 L1231.00,898.44 L1233.00,898.29 L1235.00,898.15 L1237.00,898.01 L1239.00,897.87 L1241.00,897.73 L1243.00,897.59 L1245.00,897.45 L1247.00,897.32 L1249.00,897.18 L1251.00,897.04 L1253.00,896.91 L1255.00,896.78 L1257.00,896.64 L1259.00,896.51 L1261.00,896.38 L1263.00,896.25 L1265.00,896.12 L1267.00,895.99 L1269.00,895.86 L1271.00,895.73 L1273.00,895.60 L1275.00,895.48 L1277.00,895.35 L1279.00,895.23 L1281.00,895.10 L1283.00,894.98 L1285.00,894.85 L1287.00,894.73 L1289.00,894.61 L1291.00,894.48 L1293.00,894.36 L1295.00,894.24 L1297.00,894.12 L1299.00,894.00 L1301.00,893.88 L1303.00,893.76 L1305.00,893.64 L1307.00,893.52 L1309.00,893.41 L1311.00,893.29 L1313.00,893.17 L1315.00,893.06 L1317.00,892.94 L1319.00,892.82 L1321.00,892.71 L1323.00,892.59 L1325.00,892.48 L1327.00,892.36 L1329.00,892.25 L1331.00,892.13 L1333.00,892.02 L1335.00,891.91 L1337.00,891.79 L1339.00,891.68 L1341.00,891.57 L1343.00,891.45 L1345.00,891.34 L1347.00,891.23 L1349.00,891.11 L1351.00,891.00 L1353.00,890.89 L1355.00,890.78 L1357.00,890.67 L1359.00,890.55 L1361.00,890.44 L1363.00,890.33 L1365.00,890.22 L1367.00,890.11 L1369.00,890.00 L1371.00,889.88 L1373.00,889.77 L1375.00,889.66 L1377.00,889.55 L1379.00,889.44 L1381.00,889.33 L1383.00,889.21 L1385.00,889.10 L1387.00,888.99 L1389.00,888.88 L1391.00,888.77 L1393.00,888.65 L1395.00,888.54 L1397.00,888.43 L1399.00,888.31 L1401.00,888.20 L1403.00,888.09 L1405.00,887.97 L1407.00,887.86 L1409.00,887.75 L1411.00,887.63 L1413.00,887.52 L1415.00,887.40 L1417.00,887.29" fill="none" stroke="#bf00bf" stroke-width="8.6" stroke-linecap="round" stroke-linejoin="round"/>
<path d="M875.00,943.78 L877.00,943.48 L879.00,943.17 L881.00,942.85 L883.00,942.52 L885.00,942.17 L887.00,941.82 L889.01,941.45 L891.01,941.07 L893.01,940.69 L895.01,940.29 L897.01,939.88 L899.01,939.46 L901.01,939.02 L903.01,938.58 L905.01,938.13 L907.01,937.67 L909.01,937.19 L911.01,936.71 L913.01,936.21 L915.01,935.71 L917.02,935.20 L919.02,934.67 L921.02,934.13 L923.02,933.59 L925.02,933.03 L927.02,932.47 L929.02,931.89 L931.02,931.31 L933.02,930.71 L935.02,930.11 L937.02,929.49 L939.02,928.87 L941.02,928.23 L943.03,927.59 L945.03,926.94 L947.03,926.28 L949.03,925.60 L951.03,924.92 L953.03,924.23 L955.03,923.53 L957.03,922.82 L959.03,922.11 L961.03,921.38 L963.03,920.64 L965.03,919.90 L967.03,919.14 L969.03,918.38 L971.04,917.61 L973.04,916.83 L975.04,916.04 L977.04,915.24 L979.04,914.43 L981.04,913.62 L983.04,912.79 L985.04,911.96 L987.04,911.12 L989.04,910.27 L991.04,909.42 L993.04,908.55 L995.04,907.68 L997.05,906.80 L999.05,905.91 L1001.05,905.01 L1003.05,904.10 L1005.05,903.19 L1007.05,902.27 L1009.05,901.34 L1011.05,900.40 L1013.05,899.46 L1015.05,898.50 L1017.05,897.54 L1019.05,896.58 L1021.05,895.60 L1023.05,894.62 L1025.06,893.63 L1027.06,892.63 L1029.06,891.63 L1031.06,890.61 L1033.06,889.60 L1035.06,888.57 L1037.06,887.54 L1039.06,886.50 L1041.06,885.45 L1043.06,884.40 L1045.06,883.33 L1047.06,882.27 L1049.06,881.19 L1051.06,880.11 L1053.07,879.02 L1055.07,877.93 L1057.07,876.83 L1059.07,875.72 L1061.07,874.61 L1063.07,873.49 L1065.07,872.36 L1067.07,871.23 L1069.07,870.09 L1071.07,868.94 L1073.07,867.79 L1075.07,866.64 L1077.07,865.47 L1079.08,864.30 L1081.08,863.13 L1083.08,861.95 L1085.08,860.76 L1087.08,859.57 L1089.08,858.37 L1091.08,857.17 L1093.08,855.96 L1095.08,854.74 L1097.08,853.52 L1099.08,852.30 L1101.08,851.06 L1103.08,849.83 L1105.08,848.59 L1107.09,847.34 L1109.09,846.09 L1111.09,844.83 L1113.09,843.57 L1115.09,842.30 L1117.09,841.03 L1119.09,839.75 L1121.09,838.47 L1123.09,837.18 L1125.09,835.89 L1127.09,834.59 L1129.09,833.29 L1131.09,831.99 L1133.10,830.68 L1135.10,829.36 L1137.10,828.05 L1139.10,826.72 L1141.10,825.40 L1143.10,824.06 L1145.10,822.73 L1147.10,821.39 L1149.10,820.04 L1151.10,818.70 L1153.10,817.34 L1155.10,815.99 L1157.10,814.63 L1159.10,813.27 L1161.11,811.90 L1163.11,810.53 L1165.11,809.15 L1167.11,807.77 L1169.11,806.39 L1171.11,805.01 L1173.11,803.62 L1175.11,802.23 L1177.11,800.83 L1179.11,799.43 L1181.11,798.03 L1183.11,796.62 L1185.11,795.21 L1187.12,793.80 L1189.12,792.39 L1191.12,790.97 L1193.12,789.55 L1195.12,788.13 L1197.12,786.70 L1199.12,785.27 L1201.12,783.84 L1203.12,782.41 L1205.12,780.97 L1207.12,779.53 L1209.12,778.09 L1211.12,776.64 L1213.12,775.20 L1215.13,773.75 L1217.13,772.30 L1219.13,770.84 L1221.13,769.39 L1223.13,767.93 L1225.13,766.47 L1227.13,765.01 L1229.13,763.54 L1231.13,762.08 L1233.13,760.61 L1235.13,759.14 L1237.13,757.67 L1239.13,756.20 L1241.14,754.72 L1243.14,753.25 L1245.14,751.77 L1247.14,750.29 L1249.14,748.81 L1251.14,747.33 L1253.14,745.84 L1255.14,744.36 L1257.14,742.87 L1259.14,741.39 L1261.14,739.90 L1263.14,738.41 L1265.14,736.92 L1267.14,735.43 L1269.15,733.94 L1271.15,732.44 L1273.15,730.95 L1275.15,729.46 L1277.15,727.96 L1279.15,726.47 L1281.15,724.97 L1283.15,723.47 L1285.15,721.98 L1287.15,720.48 L1289.15,718.98 L1291.15,717.48 L1293.15,715.98 L1295.15,714.48 L1297.16,712.99 L1299.16,711.49 L1301.16,709.99 L1303.16,708.49 L1305.16,706.99 L1307.16,705.49 L1309.16,703.99 L1311.16,702.49 L1313.16,701.00 L1315.16,699.50 L1317.16,698.00 L1319.16,696.50 L1321.16,695.01 L1323.17,693.51 L1325.17,692.01 L1327.17,690.52 L1329.17,689.03 L1331.17,687.53 L1333.17,686.04 L1335.17,684.55 L1337.17,683.06 L1339.17,681.57 L1341.17,680.08 L1343.17,678.59 L1345.17,677.10 L1347.17,675.62 L1349.17,674.13 L1351.18,672.65 L1353.18,671.17 L1355.18,669.69 L1357.18,668.21 L1359.18,666.73 L1361.18,665.26 L1363.18,663.78 L1365.18,662.31 L1367.18,660.84 L1369.18,659.37 L1371.18,657.90 L1373.18,656.44 L1375.18,654.98 L1377.19,653.51 L1379.19,652.06 L1381.19,650.60 L1383.19,649.14 L1385.19,647.69 L1387.19,646.24 L1389.19,644.79 L1391.19,643.34 L1393.19,641.90 L1395.19,640.46 L1397.19,639.02 L1399.19,637.59 L1401.19,636.15 L1403.19,634.72 L1405.20,633.29 L1407.20,631.87 L1409.20,630.44 L1411.20,629.02 L1413.20,627.61 L1415.20,626.19 L1417.20,624.78" fill="none" stroke="#ff0000" stroke-width="8.6" stroke-dasharray="25.6 25.4" stroke-linecap="butt" stroke-linejoin="round"/>
<path d="M179.2,112.2H307.2" stroke="#0000ff" stroke-width="8.6"/>
<path d="M179.2,158.1H307.2" stroke="#bf00bf" stroke-width="8.6"/>
<path d="M179.2,204.1H307.2" stroke="#008000" stroke-width="8.6"/>
<path d="M179.2,250.1H307.2" stroke="#ff0000" stroke-width="8.6" stroke-dasharray="25.9 25.3"/>
<defs><filter id="gs" x="0" y="0" width="1" height="1"><feOffset dx="0" dy="0"/></filter></defs><g filter="url(#gs)">
<text transform="translate(151.07,39.00) scale(0.9657,1)" font-family='"Liberation Sans", sans-serif' font-weight="bold" font-size="42.0" fill="#000">(a) R</text>
<text transform="translate(267.25,39.00) scale(0.9653,1)" font-family='"Liberation Sans", sans-serif' font-weight="bold" font-size="42.0" fill="#000">position - Thiol</text>
<text transform="translate(880.17,37.00) scale(0.9649,1)" font-family='"Liberation Sans", sans-serif' font-weight="bold" font-size="42.0" fill="#000">(b) R position - Thiol</text>
<text transform="translate(151.07,540.10) scale(0.9657,1)" font-family='"Liberation Sans", sans-serif' font-weight="bold" font-size="42.0" fill="#000">(c) R</text>
<text transform="translate(267.25,540.10) scale(0.9632,1)" font-family='"Liberation Sans", sans-serif' font-weight="bold" font-size="42.0" fill="#000">position - Isocyanide</text>
<text transform="translate(880.17,541.00) scale(0.9641,1)" font-family='"Liberation Sans", sans-serif' font-weight="bold" font-size="42.0" fill="#000">(d) R position - Isocyanide</text>
<text transform="translate(57.31,453.05) scale(0.9490,1)" font-family='"Liberation Sans", sans-serif' font-weight="bold" font-size="39.8" fill="#000">0.00</text>
<text transform="translate(56.84,325.28) scale(0.9490,1)" font-family='"Liberation Sans", sans-serif' font-weight="bold" font-size="39.8" fill="#000">0.05</text>
<g transform="translate(57.31,197.52) scale(0.9490,1)"><text font-family='"Liberation Sans", sans-serif' font-weight="bold" font-size="39.8" fill="#000">0.10</text><rect x="33.97" y="-6.41" width="8.49" height="7.77" fill="#fff"/><rect x="47.98" y="-6.41" width="7.35" height="7.77" fill="#fff"/></g>
<g transform="translate(56.84,69.75) scale(0.9490,1)"><text font-family='"Liberation Sans", sans-serif' font-weight="bold" font-size="39.8" fill="#000">0.15</text><rect x="33.97" y="-6.41" width="8.49" height="7.77" fill="#fff"/><rect x="47.98" y="-6.41" width="7.35" height="7.77" fill="#fff"/></g>
<text transform="translate(787.21,453.05) scale(0.9490,1)" font-family='"Liberation Sans", sans-serif' font-weight="bold" font-size="39.8" fill="#000">0.00</text>
<g transform="translate(786.74,261.40) scale(0.9490,1)"><text font-family='"Liberation Sans", sans-serif' font-weight="bold" font-size="39.8" fill="#000">0.01</text><rect x="56.10" y="-6.41" width="8.49" height="7.77" fill="#fff"/><rect x="70.12" y="-6.41" width="7.35" height="7.77" fill="#fff"/></g>
<text transform="translate(787.21,69.75) scale(0.9490,1)" font-family='"Liberation Sans", sans-serif' font-weight="bold" font-size="39.8" fill="#000">0.02</text>
<text transform="translate(57.31,958.20) scale(0.9490,1)" font-family='"Liberation Sans", sans-serif' font-weight="bold" font-size="39.8" fill="#000">0.00</text>
<text transform="translate(56.84,829.43) scale(0.9490,1)" font-family='"Liberation Sans", sans-serif' font-weight="bold" font-size="39.8" fill="#000">0.05</text>
<g transform="translate(57.31,700.67) scale(0.9490,1)"><text font-family='"Liberation Sans", sans-serif' font-weight="bold" font-size="39.8" fill="#000">0.10</text><rect x="33.97" y="-6.41" width="8.49" height="7.77" fill="#fff"/><rect x="47.98" y="-6.41" width="7.35" height="7.77" fill="#fff"/></g>
<g transform="translate(56.84,571.90) scale(0.9490,1)"><text font-family='"Liberation Sans", sans-serif' font-weight="bold" font-size="39.8" fill="#000">0.15</text><rect x="33.97" y="-6.41" width="8.49" height="7.77" fill="#fff"/><rect x="47.98" y="-6.41" width="7.35" height="7.77" fill="#fff"/></g>
<text transform="translate(787.21,958.30) scale(0.9490,1)" font-family='"Liberation Sans", sans-serif' font-weight="bold" font-size="39.8" fill="#000">0.00</text>
<text transform="translate(786.74,829.53) scale(0.9490,1)" font-family='"Liberation Sans", sans-serif' font-weight="bold" font-size="39.8" fill="#000">0.05</text>
<g transform="translate(787.21,700.77) scale(0.9490,1)"><text font-family='"Liberation Sans", sans-serif' font-weight="bold" font-size="39.8" fill="#000">0.10</text><rect x="33.97" y="-6.41" width="8.49" height="7.77" fill="#fff"/><rect x="47.98" y="-6.41" width="7.35" height="7.77" fill="#fff"/></g>
<g transform="translate(786.74,572.00) scale(0.9490,1)"><text font-family='"Liberation Sans", sans-serif' font-weight="bold" font-size="39.8" fill="#000">0.15</text><rect x="33.97" y="-6.41" width="8.49" height="7.77" fill="#fff"/><rect x="47.98" y="-6.41" width="7.35" height="7.77" fill="#fff"/></g>
<g transform="translate(180.66,993.10) scale(0.9490,1)"><text font-family='"Liberation Sans", sans-serif' font-weight="bold" font-size="39.9" fill="#000">100</text><rect x="0.78" y="-6.43" width="8.51" height="7.79" fill="#fff"/><rect x="14.83" y="-6.43" width="7.36" height="7.79" fill="#fff"/></g>
<text transform="translate(316.81,993.10) scale(0.9490,1)" font-family='"Liberation Sans", sans-serif' font-weight="bold" font-size="39.9" fill="#000">200</text>
<text transform="translate(453.67,993.10) scale(0.9490,1)" font-family='"Liberation Sans", sans-serif' font-weight="bold" font-size="39.9" fill="#000">300</text>
<text transform="translate(589.63,993.10) scale(0.9490,1)" font-family='"Liberation Sans", sans-serif' font-weight="bold" font-size="39.9" fill="#000">400</text>
<g transform="translate(910.76,993.10) scale(0.9490,1)"><text font-family='"Liberation Sans", sans-serif' font-weight="bold" font-size="39.9" fill="#000">100</text><rect x="0.78" y="-6.43" width="8.51" height="7.79" fill="#fff"/><rect x="14.83" y="-6.43" width="7.36" height="7.79" fill="#fff"/></g>
<text transform="translate(1046.11,993.10) scale(0.9490,1)" font-family='"Liberation Sans", sans-serif' font-weight="bold" font-size="39.9" fill="#000">200</text>
<text transform="translate(1182.17,993.10) scale(0.9490,1)" font-family='"Liberation Sans", sans-serif' font-weight="bold" font-size="39.9" fill="#000">300</text>
<text transform="translate(1317.33,993.10) scale(0.9490,1)" font-family='"Liberation Sans", sans-serif' font-weight="bold" font-size="39.9" fill="#000">400</text>
<text transform="translate(34.10,257.82) rotate(-90) scale(0.9775,1)" font-family='"Liberation Sans", sans-serif' font-weight="bold" font-size="39.7" fill="#000">ZT</text>
<text transform="translate(772.00,264.92) rotate(-90) scale(0.9733,1)" font-family='"Liberation Sans", sans-serif' font-weight="bold" font-size="39.7" fill="#000">ZT</text>
<text transform="translate(32.90,761.02) rotate(-90) scale(0.9754,1)" font-family='"Liberation Sans", sans-serif' font-weight="bold" font-size="39.7" fill="#000">ZT</text>
<text transform="translate(770.10,763.91) rotate(-90) scale(0.9711,1)" font-family='"Liberation Sans", sans-serif' font-weight="bold" font-size="39.7" fill="#000">ZT</text>
<text transform="translate(372.63,1043.00) scale(0.9378,1)" font-family='"Liberation Sans", sans-serif' font-weight="bold" font-size="40.3" fill="#000">T (K)</text>
<text transform="translate(1101.63,1043.00) scale(0.9389,1)" font-family='"Liberation Sans", sans-serif' font-weight="bold" font-size="40.3" fill="#000">T (K)</text>
<text transform="translate(325.05,125.00) scale(0.9490,1)" font-family='"Liberation Sans", sans-serif' font-weight="bold" font-size="36.3" fill="#000">Amine</text>
<text transform="translate(325.72,170.90) scale(0.9523,1)" font-family='"Liberation Sans", sans-serif' font-weight="bold" font-size="36.3" fill="#000">Nitro</text>
<text transform="translate(325.64,217.00) scale(0.9445,1)" font-family='"Liberation Sans", sans-serif' font-weight="bold" font-size="36.3" fill="#000">Methyl</text>
<text transform="translate(325.92,263.00) scale(1.0155,1)" font-family='"Liberation Sans", sans-serif' font-weight="bold" font-size="36.3" fill="#000">U.P.</text>
</g>
<path d="M248.00,2.30 L254.30,2.30 L255.10,3.60 L248.90,18.00 L244.60,18.00 L244.10,16.90Z" fill="#000" stroke="#000" stroke-width="0.8" stroke-linejoin="round"/>
<path d="M248.00,503.80 L254.30,503.80 L255.10,505.10 L248.90,519.50 L244.60,519.50 L244.10,518.40Z" fill="#000" stroke="#000" stroke-width="0.8" stroke-linejoin="round"/>
</svg>
</body></html>
